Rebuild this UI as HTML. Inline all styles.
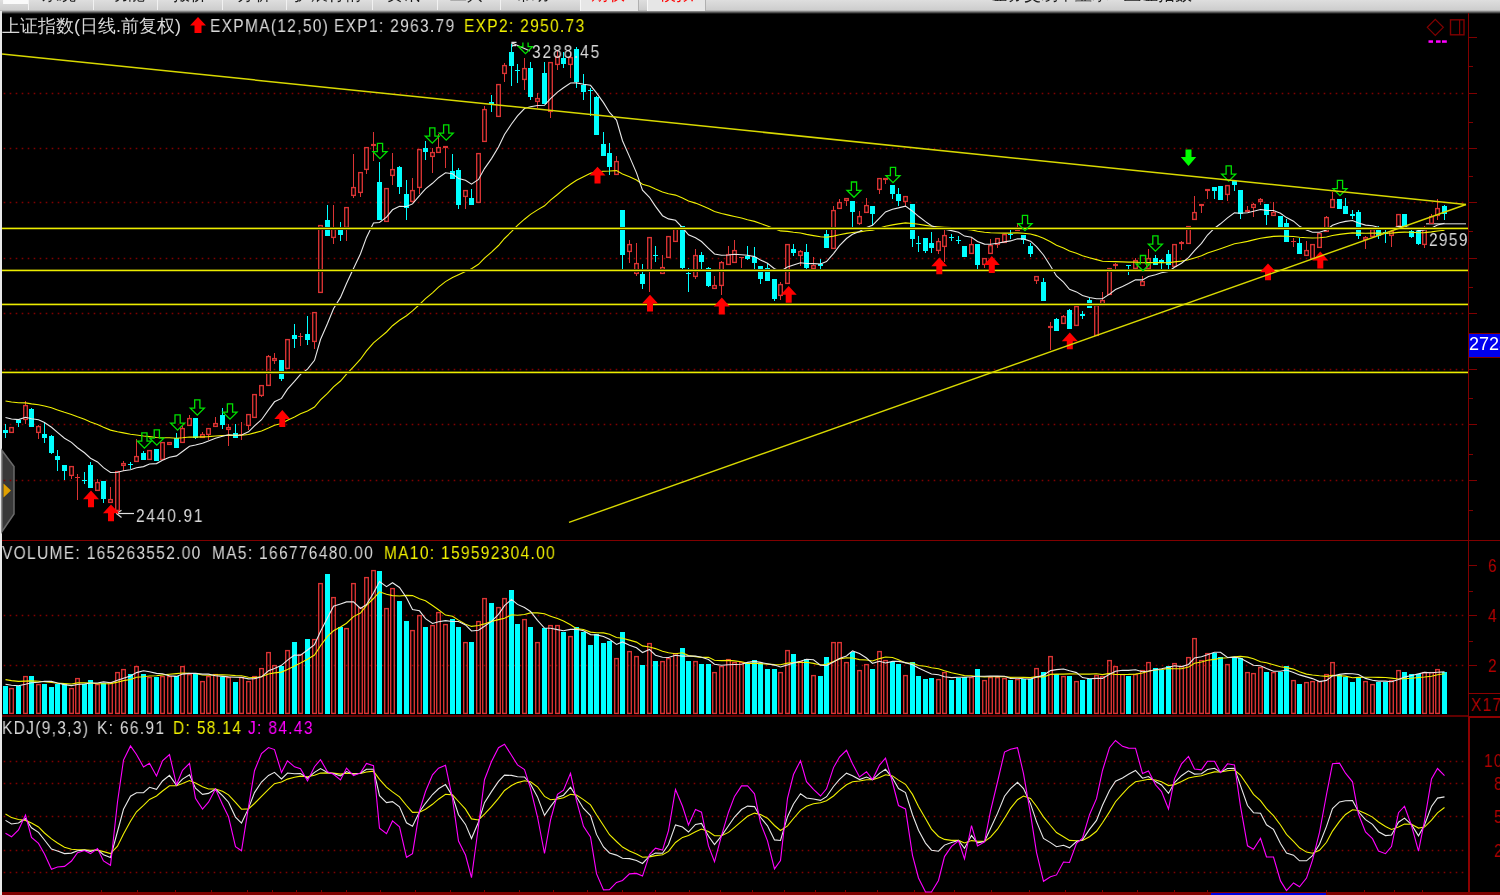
<!DOCTYPE html>
<html><head><meta charset="utf-8">
<style>
html,body{margin:0;padding:0;background:#000;}
body{width:1500px;height:895px;overflow:hidden;position:relative;font-family:"Liberation Sans",sans-serif;}
.t{position:absolute;white-space:nowrap;font-size:18px;line-height:18px;color:#d8d8d8;will-change:transform;transform-origin:0 0;transform:scaleX(0.86);letter-spacing:1.55px;}
.cj{transform:none;letter-spacing:0;}
.m{position:absolute;white-space:nowrap;font-size:17px;line-height:17px;color:#1a1a1a;top:-14px;will-change:transform;}
.sep{position:absolute;top:0;width:1px;height:10px;background:#f2f2f2;}
.bar{position:absolute;left:0;top:0;width:1500px;height:11px;overflow:hidden;}
.tab{position:absolute;top:0;height:11px;background:#e6e6e6;border-left:1px solid #f8f8f8;border-right:1px solid #b0b0b0;}
svg{position:absolute;left:0;top:0;}
</style></head><body>
<svg width="1500" height="895" viewBox="0 0 1500 895">
<rect x="0" y="0" width="1500" height="895" fill="#000"/>
<defs><linearGradient id="tb" x1="0" y1="0" x2="0" y2="1">
<stop offset="0" stop-color="#dedede"/><stop offset="0.72" stop-color="#cdcdcd"/><stop offset="0.85" stop-color="#707070"/><stop offset="1" stop-color="#000"/></linearGradient></defs>
<rect x="0" y="0" width="1500" height="14" fill="url(#tb)"/>
<rect x="0" y="11" width="2" height="884" fill="#e8e8e8"/>
<polygon points="2,450.5 14,466.5 14,514 2,531.5" fill="#383838" stroke="#6a6a6a" stroke-width="1.5"/>
<polygon points="3.5,483.5 11,490.5 3.5,497.5" fill="#e0a000"/>
<rect x="1468" y="13" width="1" height="703" fill="#800000"/>
<rect x="1468" y="716" width="2" height="176" fill="#8c0000"/>
<rect x="2" y="540" width="1498" height="1" fill="#800000"/>
<rect x="2" y="715" width="1466" height="2" fill="#600000"/>
<rect x="1468" y="716" width="32" height="2" fill="#8c0000"/>
<rect x="1468" y="693" width="32" height="1" fill="#8c0000"/>
<rect x="2" y="892" width="1498" height="3" fill="#800000"/>
<rect x="1211" y="893" width="115" height="2" fill="#0000e0"/>
<rect x="101" y="890" width="1" height="2" fill="#800000"/>
<rect x="137" y="890" width="1" height="2" fill="#800000"/>
<rect x="175" y="890" width="1" height="2" fill="#800000"/>
<rect x="211" y="890" width="1" height="2" fill="#800000"/>
<rect x="247" y="890" width="1" height="2" fill="#800000"/>
<rect x="272" y="890" width="1" height="2" fill="#800000"/>
<rect x="296" y="890" width="1" height="2" fill="#800000"/>
<rect x="321" y="890" width="1" height="2" fill="#800000"/>
<rect x="346" y="890" width="1" height="2" fill="#800000"/>
<rect x="380" y="890" width="1" height="2" fill="#800000"/>
<rect x="415" y="890" width="1" height="2" fill="#800000"/>
<rect x="450" y="890" width="1" height="2" fill="#800000"/>
<rect x="484" y="890" width="1" height="2" fill="#800000"/>
<rect x="519" y="890" width="1" height="2" fill="#800000"/>
<rect x="553" y="890" width="1" height="2" fill="#800000"/>
<rect x="587" y="890" width="1" height="2" fill="#800000"/>
<rect x="622" y="890" width="1" height="2" fill="#800000"/>
<rect x="655" y="890" width="1" height="2" fill="#800000"/>
<rect x="689" y="890" width="1" height="2" fill="#800000"/>
<rect x="720" y="890" width="1" height="2" fill="#800000"/>
<rect x="752" y="890" width="1" height="2" fill="#800000"/>
<rect x="784" y="890" width="1" height="2" fill="#800000"/>
<rect x="815" y="890" width="1" height="2" fill="#800000"/>
<rect x="845" y="890" width="1" height="2" fill="#800000"/>
<rect x="877" y="890" width="1" height="2" fill="#800000"/>
<rect x="914" y="890" width="1" height="2" fill="#800000"/>
<rect x="954" y="890" width="1" height="2" fill="#800000"/>
<rect x="991" y="890" width="1" height="2" fill="#800000"/>
<rect x="1029" y="890" width="1" height="2" fill="#800000"/>
<rect x="1065" y="890" width="1" height="2" fill="#800000"/>
<rect x="1102" y="890" width="1" height="2" fill="#800000"/>
<rect x="1137" y="890" width="1" height="2" fill="#800000"/>
<rect x="1174" y="890" width="1" height="2" fill="#800000"/>
<rect x="1207" y="890" width="1" height="2" fill="#800000"/>
<rect x="1326" y="890" width="1" height="2" fill="#800000"/>
<rect x="1364" y="890" width="1" height="2" fill="#800000"/>
<rect x="1394" y="890" width="1" height="2" fill="#800000"/>
<rect x="1422" y="890" width="1" height="2" fill="#800000"/>
<rect x="1469" y="37" width="8" height="1" fill="#800000"/>
<rect x="1469" y="93" width="8" height="1" fill="#800000"/>
<rect x="1469" y="148" width="8" height="1" fill="#800000"/>
<rect x="1469" y="202" width="8" height="1" fill="#800000"/>
<rect x="1469" y="258" width="8" height="1" fill="#800000"/>
<rect x="1469" y="313" width="8" height="1" fill="#800000"/>
<rect x="1469" y="369" width="8" height="1" fill="#800000"/>
<rect x="1469" y="424" width="8" height="1" fill="#800000"/>
<rect x="1469" y="480" width="8" height="1" fill="#800000"/>
<rect x="1469" y="66" width="4" height="1" fill="#800000"/>
<rect x="1469" y="122" width="4" height="1" fill="#800000"/>
<rect x="1469" y="176" width="4" height="1" fill="#800000"/>
<rect x="1469" y="231" width="4" height="1" fill="#800000"/>
<rect x="1469" y="287" width="4" height="1" fill="#800000"/>
<rect x="1469" y="342" width="4" height="1" fill="#800000"/>
<rect x="1469" y="398" width="4" height="1" fill="#800000"/>
<rect x="1469" y="454" width="4" height="1" fill="#800000"/>
<rect x="1469" y="510" width="4" height="1" fill="#800000"/>
<rect x="1469" y="565" width="8" height="1" fill="#800000"/>
<rect x="1469" y="615" width="8" height="1" fill="#800000"/>
<rect x="1469" y="665" width="8" height="1" fill="#800000"/>
<rect x="1469" y="591" width="4" height="1" fill="#800000"/>
<rect x="1469" y="641" width="4" height="1" fill="#800000"/>
<polygon points="1435.3,19.3 1443.3,27.3 1435.3,35.3 1427.3,27.3" fill="none" stroke="#800000" stroke-width="1.2"/>
<rect x="1450.5" y="19.8" width="13.5" height="15" fill="none" stroke="#800000" stroke-width="1.4"/>
<rect x="1459" y="20" width="1.2" height="15" fill="#800000"/>
<rect x="1428.5" y="40.3" width="4.5" height="2.5" fill="#ff00ff"/>
<rect x="1436" y="40.3" width="4.6" height="2.5" fill="#ff00ff"/>
<rect x="1442" y="40.3" width="4.8" height="2.5" fill="#ff00ff"/>
<rect x="1468.5" y="333.5" width="33" height="24" fill="#0000f0" stroke="#800000" stroke-width="1"/>
<rect x="1426" y="223" width="40" height="1.5" fill="#9a9a9a"/>
<polygon points="198,17 206,25.5 201.5,25.5 201.5,33 194.5,33 194.5,25.5 190,25.5" fill="#ff0000"/>
<g stroke="#e0e0e0" stroke-width="1.2" fill="none">
<line x1="116.5" y1="513.5" x2="134" y2="513.5"/><line x1="116.5" y1="513.5" x2="121.5" y2="510.3"/><line x1="116.5" y1="513.5" x2="121.5" y2="517.5"/>
<polyline points="516.5,42.4 512,42.4 512,47"/><line x1="512" y1="45.6" x2="516" y2="45.6"/><line x1="512" y1="43" x2="530" y2="51"/>
</g>
<line x1="3.7" y1="93.5" x2="1466" y2="93.5" stroke="#800000" stroke-width="1.6" stroke-dasharray="1.6 4.4"/>
<line x1="3.7" y1="148.5" x2="1466" y2="148.5" stroke="#800000" stroke-width="1.6" stroke-dasharray="1.6 4.4"/>
<line x1="3.7" y1="202.5" x2="1466" y2="202.5" stroke="#800000" stroke-width="1.6" stroke-dasharray="1.6 4.4"/>
<line x1="3.7" y1="258.5" x2="1466" y2="258.5" stroke="#800000" stroke-width="1.6" stroke-dasharray="1.6 4.4"/>
<line x1="3.7" y1="313.5" x2="1466" y2="313.5" stroke="#800000" stroke-width="1.6" stroke-dasharray="1.6 4.4"/>
<line x1="3.7" y1="369.5" x2="1466" y2="369.5" stroke="#800000" stroke-width="1.6" stroke-dasharray="1.6 4.4"/>
<line x1="3.7" y1="424.5" x2="1466" y2="424.5" stroke="#800000" stroke-width="1.6" stroke-dasharray="1.6 4.4"/>
<line x1="3.7" y1="480.5" x2="1466" y2="480.5" stroke="#800000" stroke-width="1.6" stroke-dasharray="1.6 4.4"/>
<line x1="3.7" y1="615.5" x2="1466" y2="615.5" stroke="#800000" stroke-width="1.6" stroke-dasharray="1.6 4.4"/>
<line x1="3.7" y1="665.5" x2="1466" y2="665.5" stroke="#800000" stroke-width="1.6" stroke-dasharray="1.6 4.4"/>
<line x1="3.7" y1="761.5" x2="1466" y2="761.5" stroke="#800000" stroke-width="1.6" stroke-dasharray="1.6 4.4"/>
<line x1="3.7" y1="783.5" x2="1466" y2="783.5" stroke="#800000" stroke-width="1.6" stroke-dasharray="1.6 4.4"/>
<line x1="3.7" y1="816.5" x2="1466" y2="816.5" stroke="#800000" stroke-width="1.6" stroke-dasharray="1.6 4.4"/>
<line x1="3.7" y1="850.5" x2="1466" y2="850.5" stroke="#800000" stroke-width="1.6" stroke-dasharray="1.6 4.4"/>
<line x1="3.7" y1="872.5" x2="1466" y2="872.5" stroke="#800000" stroke-width="1.6" stroke-dasharray="1.6 4.4"/>
<rect x="5" y="424" width="1" height="14" fill="#00ffff"/>
<rect x="3" y="430" width="5" height="3" fill="#00ffff"/>
<rect x="9.7" y="427.6" width="3.6" height="4.8" fill="none" stroke="#dc3434" stroke-width="1.35"/>
<rect x="18" y="419" width="1" height="8" fill="#00ffff"/>
<rect x="16" y="420" width="5" height="3" fill="#00ffff"/>
<rect x="25" y="401" width="1" height="4" fill="#dc3434"/>
<rect x="25" y="420" width="1" height="4" fill="#dc3434"/>
<rect x="23.7" y="405.6" width="3.6" height="13.8" fill="none" stroke="#dc3434" stroke-width="1.35"/>
<rect x="31" y="408" width="1" height="19" fill="#00ffff"/>
<rect x="29" y="409" width="5" height="18" fill="#00ffff"/>
<rect x="38" y="425" width="1" height="1" fill="#dc3434"/>
<rect x="38" y="433" width="1" height="6" fill="#dc3434"/>
<rect x="36.7" y="426.6" width="3.6" height="5.8" fill="none" stroke="#dc3434" stroke-width="1.35"/>
<rect x="44" y="423" width="1" height="20" fill="#00ffff"/>
<rect x="42" y="434" width="5" height="4" fill="#00ffff"/>
<rect x="51" y="435" width="1" height="19" fill="#00ffff"/>
<rect x="49" y="436" width="5" height="17" fill="#00ffff"/>
<rect x="57" y="450" width="1" height="21" fill="#00ffff"/>
<rect x="55" y="456" width="5" height="4" fill="#00ffff"/>
<rect x="64" y="465" width="1" height="15" fill="#00ffff"/>
<rect x="62" y="465" width="5" height="6" fill="#00ffff"/>
<rect x="71" y="476" width="1" height="3" fill="#dc3434"/>
<rect x="69.7" y="466.6" width="3.6" height="8.8" fill="none" stroke="#dc3434" stroke-width="1.35"/>
<rect x="77" y="474" width="1" height="3" fill="#dc3434"/>
<rect x="77" y="478" width="1" height="22" fill="#dc3434"/>
<rect x="75" y="477" width="5" height="1" fill="#dc3434"/>
<rect x="84" y="472" width="1" height="12" fill="#00ffff"/>
<rect x="82" y="480" width="5" height="1" fill="#00ffff"/>
<rect x="90" y="462" width="1" height="26" fill="#00ffff"/>
<rect x="88" y="465" width="5" height="23" fill="#00ffff"/>
<rect x="97" y="479" width="1" height="3" fill="#dc3434"/>
<rect x="95.7" y="482.6" width="3.6" height="7.8" fill="none" stroke="#dc3434" stroke-width="1.35"/>
<rect x="103" y="481" width="1" height="22" fill="#00ffff"/>
<rect x="101" y="481" width="5" height="18" fill="#00ffff"/>
<rect x="110" y="487" width="1" height="12" fill="#dc3434"/>
<rect x="108.7" y="499.6" width="3.6" height="2.8" fill="none" stroke="#dc3434" stroke-width="1.35"/>
<rect x="117" y="511" width="1" height="3" fill="#dc3434"/>
<rect x="115.7" y="471.6" width="3.6" height="38.8" fill="none" stroke="#dc3434" stroke-width="1.35"/>
<rect x="123" y="461" width="1" height="2" fill="#dc3434"/>
<rect x="123" y="466" width="1" height="5" fill="#dc3434"/>
<rect x="121.7" y="463.6" width="3.6" height="1.8" fill="none" stroke="#dc3434" stroke-width="1.35"/>
<rect x="130" y="462" width="1" height="7" fill="#00ffff"/>
<rect x="128" y="464" width="5" height="1" fill="#00ffff"/>
<rect x="136" y="439" width="1" height="17" fill="#dc3434"/>
<rect x="134.7" y="456.6" width="3.6" height="4.8" fill="none" stroke="#dc3434" stroke-width="1.35"/>
<rect x="143" y="451" width="1" height="9" fill="#00ffff"/>
<rect x="141" y="453" width="5" height="7" fill="#00ffff"/>
<rect x="147.7" y="450.6" width="3.6" height="8.8" fill="none" stroke="#dc3434" stroke-width="1.35"/>
<rect x="156" y="449" width="1" height="12" fill="#00ffff"/>
<rect x="154" y="449" width="5" height="12" fill="#00ffff"/>
<rect x="160.7" y="442.6" width="3.6" height="16.8" fill="none" stroke="#dc3434" stroke-width="1.35"/>
<rect x="167.7" y="442.6" width="3.6" height="1.8" fill="none" stroke="#dc3434" stroke-width="1.35"/>
<rect x="176" y="433" width="1" height="15" fill="#00ffff"/>
<rect x="174" y="438" width="5" height="10" fill="#00ffff"/>
<rect x="182" y="426" width="1" height="2" fill="#dc3434"/>
<rect x="180.7" y="428.6" width="3.6" height="13.8" fill="none" stroke="#dc3434" stroke-width="1.35"/>
<rect x="189" y="415" width="1" height="3" fill="#dc3434"/>
<rect x="187.7" y="418.6" width="3.6" height="6.8" fill="none" stroke="#dc3434" stroke-width="1.35"/>
<rect x="195" y="418" width="1" height="21" fill="#00ffff"/>
<rect x="193" y="418" width="5" height="20" fill="#00ffff"/>
<rect x="202" y="432" width="1" height="2" fill="#dc3434"/>
<rect x="200.7" y="434.6" width="3.6" height="2.8" fill="none" stroke="#dc3434" stroke-width="1.35"/>
<rect x="208" y="435" width="1" height="5" fill="#dc3434"/>
<rect x="206.7" y="428.6" width="3.6" height="5.8" fill="none" stroke="#dc3434" stroke-width="1.35"/>
<rect x="215" y="417" width="1" height="6" fill="#dc3434"/>
<rect x="213.7" y="423.6" width="3.6" height="2.8" fill="none" stroke="#dc3434" stroke-width="1.35"/>
<rect x="222" y="408" width="1" height="21" fill="#00ffff"/>
<rect x="220" y="415" width="5" height="10" fill="#00ffff"/>
<rect x="228" y="424" width="1" height="3" fill="#dc3434"/>
<rect x="228" y="430" width="1" height="16" fill="#dc3434"/>
<rect x="226.7" y="427.6" width="3.6" height="1.8" fill="none" stroke="#dc3434" stroke-width="1.35"/>
<rect x="235" y="424" width="1" height="14" fill="#00ffff"/>
<rect x="233" y="433" width="5" height="5" fill="#00ffff"/>
<rect x="241" y="422" width="1" height="12" fill="#dc3434"/>
<rect x="241" y="435" width="1" height="5" fill="#dc3434"/>
<rect x="239" y="434" width="5" height="1" fill="#dc3434"/>
<rect x="248" y="426" width="1" height="4" fill="#dc3434"/>
<rect x="246.7" y="414.6" width="3.6" height="10.8" fill="none" stroke="#dc3434" stroke-width="1.35"/>
<rect x="252.7" y="394.6" width="3.6" height="22.8" fill="none" stroke="#dc3434" stroke-width="1.35"/>
<rect x="261" y="396" width="1" height="1" fill="#dc3434"/>
<rect x="259.7" y="385.6" width="3.6" height="9.8" fill="none" stroke="#dc3434" stroke-width="1.35"/>
<rect x="268" y="355" width="1" height="1" fill="#dc3434"/>
<rect x="266.7" y="356.6" width="3.6" height="28.8" fill="none" stroke="#dc3434" stroke-width="1.35"/>
<rect x="274" y="353" width="1" height="5" fill="#dc3434"/>
<rect x="274" y="361" width="1" height="3" fill="#dc3434"/>
<rect x="272.7" y="358.6" width="3.6" height="1.8" fill="none" stroke="#dc3434" stroke-width="1.35"/>
<rect x="281" y="360" width="1" height="21" fill="#00ffff"/>
<rect x="279" y="360" width="5" height="19" fill="#00ffff"/>
<rect x="285.7" y="339.6" width="3.6" height="28.8" fill="none" stroke="#dc3434" stroke-width="1.35"/>
<rect x="294" y="324" width="1" height="24" fill="#00ffff"/>
<rect x="292" y="335" width="5" height="4" fill="#00ffff"/>
<rect x="300" y="333" width="1" height="3" fill="#dc3434"/>
<rect x="300" y="337" width="1" height="9" fill="#dc3434"/>
<rect x="298" y="336" width="5" height="1" fill="#dc3434"/>
<rect x="307" y="316" width="1" height="29" fill="#00ffff"/>
<rect x="305" y="334" width="5" height="6" fill="#00ffff"/>
<rect x="314" y="342" width="1" height="7" fill="#dc3434"/>
<rect x="312.7" y="312.6" width="3.6" height="28.8" fill="none" stroke="#dc3434" stroke-width="1.35"/>
<rect x="318.7" y="225.6" width="3.6" height="66.8" fill="none" stroke="#dc3434" stroke-width="1.35"/>
<rect x="327" y="205" width="1" height="31" fill="#00ffff"/>
<rect x="325" y="220" width="5" height="16" fill="#00ffff"/>
<rect x="333" y="205" width="1" height="23" fill="#dc3434"/>
<rect x="333" y="238" width="1" height="6" fill="#dc3434"/>
<rect x="331.7" y="228.6" width="3.6" height="8.8" fill="none" stroke="#dc3434" stroke-width="1.35"/>
<rect x="340" y="222" width="1" height="19" fill="#00ffff"/>
<rect x="338" y="230" width="5" height="5" fill="#00ffff"/>
<rect x="346" y="228" width="1" height="13" fill="#dc3434"/>
<rect x="344.7" y="207.6" width="3.6" height="19.8" fill="none" stroke="#dc3434" stroke-width="1.35"/>
<rect x="353" y="154" width="1" height="33" fill="#dc3434"/>
<rect x="353" y="196" width="1" height="2" fill="#dc3434"/>
<rect x="351.7" y="187.6" width="3.6" height="7.8" fill="none" stroke="#dc3434" stroke-width="1.35"/>
<rect x="360" y="193" width="1" height="4" fill="#dc3434"/>
<rect x="358.7" y="172.6" width="3.6" height="19.8" fill="none" stroke="#dc3434" stroke-width="1.35"/>
<rect x="366" y="170" width="1" height="4" fill="#dc3434"/>
<rect x="364.7" y="147.6" width="3.6" height="21.8" fill="none" stroke="#dc3434" stroke-width="1.35"/>
<rect x="373" y="132" width="1" height="12" fill="#dc3434"/>
<rect x="373" y="146" width="1" height="15" fill="#dc3434"/>
<rect x="371.7" y="144.6" width="3.6" height="0.8" fill="none" stroke="#dc3434" stroke-width="1.35"/>
<rect x="379" y="162" width="1" height="58" fill="#00ffff"/>
<rect x="377" y="182" width="5" height="38" fill="#00ffff"/>
<rect x="384.7" y="188.6" width="3.6" height="32.8" fill="none" stroke="#dc3434" stroke-width="1.35"/>
<rect x="392" y="153" width="1" height="16" fill="#dc3434"/>
<rect x="392" y="176" width="1" height="9" fill="#dc3434"/>
<rect x="390.7" y="169.6" width="3.6" height="5.8" fill="none" stroke="#dc3434" stroke-width="1.35"/>
<rect x="399" y="166" width="1" height="28" fill="#00ffff"/>
<rect x="397" y="167" width="5" height="20" fill="#00ffff"/>
<rect x="406" y="180" width="1" height="40" fill="#00ffff"/>
<rect x="404" y="194" width="5" height="14" fill="#00ffff"/>
<rect x="412" y="178" width="1" height="12" fill="#dc3434"/>
<rect x="410.7" y="190.6" width="3.6" height="10.8" fill="none" stroke="#dc3434" stroke-width="1.35"/>
<rect x="419" y="188" width="1" height="6" fill="#dc3434"/>
<rect x="417.7" y="149.6" width="3.6" height="37.8" fill="none" stroke="#dc3434" stroke-width="1.35"/>
<rect x="425" y="141" width="1" height="19" fill="#00ffff"/>
<rect x="423" y="148" width="5" height="4" fill="#00ffff"/>
<rect x="432" y="148" width="1" height="4" fill="#dc3434"/>
<rect x="432" y="157" width="1" height="16" fill="#dc3434"/>
<rect x="430.7" y="152.6" width="3.6" height="3.8" fill="none" stroke="#dc3434" stroke-width="1.35"/>
<rect x="438" y="134" width="1" height="13" fill="#dc3434"/>
<rect x="436.7" y="147.6" width="3.6" height="4.8" fill="none" stroke="#dc3434" stroke-width="1.35"/>
<rect x="445" y="148" width="1" height="20" fill="#dc3434"/>
<rect x="443.7" y="146.6" width="3.6" height="0.8" fill="none" stroke="#dc3434" stroke-width="1.35"/>
<rect x="452" y="154" width="1" height="25" fill="#00ffff"/>
<rect x="450" y="171" width="5" height="8" fill="#00ffff"/>
<rect x="458" y="168" width="1" height="41" fill="#00ffff"/>
<rect x="456" y="170" width="5" height="35" fill="#00ffff"/>
<rect x="465" y="197" width="1" height="12" fill="#dc3434"/>
<rect x="463.7" y="190.6" width="3.6" height="5.8" fill="none" stroke="#dc3434" stroke-width="1.35"/>
<rect x="471" y="189" width="1" height="16" fill="#00ffff"/>
<rect x="469" y="198" width="5" height="7" fill="#00ffff"/>
<rect x="476.7" y="153.6" width="3.6" height="48.8" fill="none" stroke="#dc3434" stroke-width="1.35"/>
<rect x="484" y="106" width="1" height="3" fill="#dc3434"/>
<rect x="482.7" y="109.6" width="3.6" height="31.8" fill="none" stroke="#dc3434" stroke-width="1.35"/>
<rect x="491" y="95" width="1" height="17" fill="#00ffff"/>
<rect x="489" y="102" width="5" height="2" fill="#00ffff"/>
<rect x="496.7" y="84.6" width="3.6" height="31.8" fill="none" stroke="#dc3434" stroke-width="1.35"/>
<rect x="504" y="63" width="1" height="2" fill="#dc3434"/>
<rect x="504" y="74" width="1" height="8" fill="#dc3434"/>
<rect x="502.7" y="65.6" width="3.6" height="7.8" fill="none" stroke="#dc3434" stroke-width="1.35"/>
<rect x="511" y="44" width="1" height="42" fill="#00ffff"/>
<rect x="509" y="52" width="5" height="14" fill="#00ffff"/>
<rect x="517" y="64" width="1" height="19" fill="#00ffff"/>
<rect x="515" y="70" width="5" height="1" fill="#00ffff"/>
<rect x="524" y="58" width="1" height="10" fill="#dc3434"/>
<rect x="524" y="80" width="1" height="10" fill="#dc3434"/>
<rect x="522.7" y="68.6" width="3.6" height="10.8" fill="none" stroke="#dc3434" stroke-width="1.35"/>
<rect x="530" y="62" width="1" height="38" fill="#00ffff"/>
<rect x="528" y="68" width="5" height="29" fill="#00ffff"/>
<rect x="537" y="93" width="1" height="5" fill="#dc3434"/>
<rect x="537" y="102" width="1" height="6" fill="#dc3434"/>
<rect x="535.7" y="98.6" width="3.6" height="2.8" fill="none" stroke="#dc3434" stroke-width="1.35"/>
<rect x="544" y="62" width="1" height="42" fill="#00ffff"/>
<rect x="542" y="73" width="5" height="31" fill="#00ffff"/>
<rect x="550" y="112" width="1" height="6" fill="#dc3434"/>
<rect x="548.7" y="62.6" width="3.6" height="48.8" fill="none" stroke="#dc3434" stroke-width="1.35"/>
<rect x="557" y="50" width="1" height="6" fill="#dc3434"/>
<rect x="557" y="65" width="1" height="5" fill="#dc3434"/>
<rect x="555.7" y="56.6" width="3.6" height="7.8" fill="none" stroke="#dc3434" stroke-width="1.35"/>
<rect x="563" y="52" width="1" height="16" fill="#00ffff"/>
<rect x="561" y="58" width="5" height="6" fill="#00ffff"/>
<rect x="570" y="52" width="1" height="5" fill="#dc3434"/>
<rect x="570" y="65" width="1" height="13" fill="#dc3434"/>
<rect x="568.7" y="57.6" width="3.6" height="6.8" fill="none" stroke="#dc3434" stroke-width="1.35"/>
<rect x="576" y="47" width="1" height="41" fill="#00ffff"/>
<rect x="574" y="49" width="5" height="33" fill="#00ffff"/>
<rect x="583" y="74" width="1" height="26" fill="#00ffff"/>
<rect x="581" y="85" width="5" height="7" fill="#00ffff"/>
<rect x="590" y="88" width="1" height="28" fill="#00ffff"/>
<rect x="588" y="90" width="5" height="1" fill="#00ffff"/>
<rect x="596" y="96" width="1" height="39" fill="#00ffff"/>
<rect x="594" y="97" width="5" height="38" fill="#00ffff"/>
<rect x="603" y="132" width="1" height="24" fill="#00ffff"/>
<rect x="601" y="144" width="5" height="12" fill="#00ffff"/>
<rect x="609" y="143" width="1" height="32" fill="#00ffff"/>
<rect x="607" y="153" width="5" height="14" fill="#00ffff"/>
<rect x="616" y="156" width="1" height="5" fill="#dc3434"/>
<rect x="614.7" y="161.6" width="3.6" height="12.8" fill="none" stroke="#dc3434" stroke-width="1.35"/>
<rect x="622" y="210" width="1" height="60" fill="#00ffff"/>
<rect x="620" y="210" width="5" height="45" fill="#00ffff"/>
<rect x="629" y="240" width="1" height="4" fill="#dc3434"/>
<rect x="629" y="252" width="1" height="11" fill="#dc3434"/>
<rect x="627.7" y="244.6" width="3.6" height="6.8" fill="none" stroke="#dc3434" stroke-width="1.35"/>
<rect x="636" y="243" width="1" height="20" fill="#dc3434"/>
<rect x="636" y="274" width="1" height="2" fill="#dc3434"/>
<rect x="634.7" y="263.6" width="3.6" height="9.8" fill="none" stroke="#dc3434" stroke-width="1.35"/>
<rect x="642" y="264" width="1" height="25" fill="#00ffff"/>
<rect x="640" y="274" width="5" height="10" fill="#00ffff"/>
<rect x="649" y="271" width="1" height="21" fill="#dc3434"/>
<rect x="647.7" y="237.6" width="3.6" height="32.8" fill="none" stroke="#dc3434" stroke-width="1.35"/>
<rect x="655" y="246" width="1" height="16" fill="#00ffff"/>
<rect x="653" y="255" width="5" height="1" fill="#00ffff"/>
<rect x="662" y="255" width="1" height="12" fill="#dc3434"/>
<rect x="660.7" y="267.6" width="3.6" height="5.8" fill="none" stroke="#dc3434" stroke-width="1.35"/>
<rect x="666.7" y="236.6" width="3.6" height="20.8" fill="none" stroke="#dc3434" stroke-width="1.35"/>
<rect x="673.7" y="228.6" width="3.6" height="12.8" fill="none" stroke="#dc3434" stroke-width="1.35"/>
<rect x="682" y="226" width="1" height="46" fill="#00ffff"/>
<rect x="680" y="226" width="5" height="42" fill="#00ffff"/>
<rect x="688" y="268" width="1" height="24" fill="#00ffff"/>
<rect x="686" y="273" width="5" height="1" fill="#00ffff"/>
<rect x="695" y="249" width="1" height="6" fill="#dc3434"/>
<rect x="695" y="277" width="1" height="2" fill="#dc3434"/>
<rect x="693.7" y="255.6" width="3.6" height="20.8" fill="none" stroke="#dc3434" stroke-width="1.35"/>
<rect x="701" y="252" width="1" height="17" fill="#00ffff"/>
<rect x="699" y="255" width="5" height="7" fill="#00ffff"/>
<rect x="708" y="267" width="1" height="20" fill="#00ffff"/>
<rect x="706" y="268" width="5" height="18" fill="#00ffff"/>
<rect x="714" y="276" width="1" height="9" fill="#dc3434"/>
<rect x="712.7" y="285.6" width="3.6" height="2.8" fill="none" stroke="#dc3434" stroke-width="1.35"/>
<rect x="721" y="261" width="1" height="1" fill="#dc3434"/>
<rect x="721" y="286" width="1" height="9" fill="#dc3434"/>
<rect x="719.7" y="262.6" width="3.6" height="22.8" fill="none" stroke="#dc3434" stroke-width="1.35"/>
<rect x="728" y="246" width="1" height="8" fill="#dc3434"/>
<rect x="726.7" y="254.6" width="3.6" height="9.8" fill="none" stroke="#dc3434" stroke-width="1.35"/>
<rect x="734" y="240" width="1" height="10" fill="#dc3434"/>
<rect x="732.7" y="250.6" width="3.6" height="11.8" fill="none" stroke="#dc3434" stroke-width="1.35"/>
<rect x="741" y="258" width="1" height="10" fill="#dc3434"/>
<rect x="739" y="257" width="5" height="1" fill="#dc3434"/>
<rect x="747" y="246" width="1" height="14" fill="#00ffff"/>
<rect x="745" y="256" width="5" height="3" fill="#00ffff"/>
<rect x="754" y="247" width="1" height="22" fill="#00ffff"/>
<rect x="752" y="257" width="5" height="6" fill="#00ffff"/>
<rect x="760" y="266" width="1" height="18" fill="#00ffff"/>
<rect x="758" y="266" width="5" height="13" fill="#00ffff"/>
<rect x="767" y="263" width="1" height="18" fill="#00ffff"/>
<rect x="765" y="268" width="5" height="13" fill="#00ffff"/>
<rect x="774" y="279" width="1" height="22" fill="#00ffff"/>
<rect x="772" y="279" width="5" height="20" fill="#00ffff"/>
<rect x="780" y="282" width="1" height="2" fill="#dc3434"/>
<rect x="780" y="296" width="1" height="4" fill="#dc3434"/>
<rect x="778.7" y="284.6" width="3.6" height="10.8" fill="none" stroke="#dc3434" stroke-width="1.35"/>
<rect x="785.7" y="244.6" width="3.6" height="38.8" fill="none" stroke="#dc3434" stroke-width="1.35"/>
<rect x="793" y="244" width="1" height="12" fill="#00ffff"/>
<rect x="791" y="249" width="5" height="4" fill="#00ffff"/>
<rect x="800" y="250" width="1" height="1" fill="#dc3434"/>
<rect x="800" y="256" width="1" height="10" fill="#dc3434"/>
<rect x="798.7" y="251.6" width="3.6" height="3.8" fill="none" stroke="#dc3434" stroke-width="1.35"/>
<rect x="806" y="244" width="1" height="25" fill="#00ffff"/>
<rect x="804" y="252" width="5" height="16" fill="#00ffff"/>
<rect x="813" y="257" width="1" height="8" fill="#dc3434"/>
<rect x="811.7" y="265.6" width="3.6" height="2.8" fill="none" stroke="#dc3434" stroke-width="1.35"/>
<rect x="820" y="259" width="1" height="13" fill="#00ffff"/>
<rect x="818" y="264" width="5" height="2" fill="#00ffff"/>
<rect x="826" y="230" width="1" height="18" fill="#00ffff"/>
<rect x="824" y="234" width="5" height="14" fill="#00ffff"/>
<rect x="833" y="206" width="1" height="4" fill="#dc3434"/>
<rect x="831.7" y="210.6" width="3.6" height="37.8" fill="none" stroke="#dc3434" stroke-width="1.35"/>
<rect x="839" y="199" width="1" height="3" fill="#dc3434"/>
<rect x="837.7" y="202.6" width="3.6" height="5.8" fill="none" stroke="#dc3434" stroke-width="1.35"/>
<rect x="846" y="201" width="1" height="5" fill="#dc3434"/>
<rect x="844.7" y="198.6" width="3.6" height="1.8" fill="none" stroke="#dc3434" stroke-width="1.35"/>
<rect x="852" y="201" width="1" height="29" fill="#00ffff"/>
<rect x="850" y="201" width="5" height="11" fill="#00ffff"/>
<rect x="859" y="211" width="1" height="5" fill="#dc3434"/>
<rect x="859" y="224" width="1" height="1" fill="#dc3434"/>
<rect x="857.7" y="216.6" width="3.6" height="6.8" fill="none" stroke="#dc3434" stroke-width="1.35"/>
<rect x="866" y="198" width="1" height="7" fill="#dc3434"/>
<rect x="864.7" y="205.6" width="3.6" height="6.8" fill="none" stroke="#dc3434" stroke-width="1.35"/>
<rect x="872" y="206" width="1" height="19" fill="#00ffff"/>
<rect x="870" y="206" width="5" height="8" fill="#00ffff"/>
<rect x="879" y="190" width="1" height="4" fill="#dc3434"/>
<rect x="877.7" y="178.6" width="3.6" height="10.8" fill="none" stroke="#dc3434" stroke-width="1.35"/>
<rect x="885" y="180" width="1" height="4" fill="#dc3434"/>
<rect x="883.7" y="178.6" width="3.6" height="0.8" fill="none" stroke="#dc3434" stroke-width="1.35"/>
<rect x="892" y="185" width="1" height="14" fill="#00ffff"/>
<rect x="890" y="185" width="5" height="9" fill="#00ffff"/>
<rect x="898" y="188" width="1" height="18" fill="#00ffff"/>
<rect x="896" y="194" width="5" height="7" fill="#00ffff"/>
<rect x="905" y="202" width="1" height="4" fill="#dc3434"/>
<rect x="903.7" y="196.6" width="3.6" height="4.8" fill="none" stroke="#dc3434" stroke-width="1.35"/>
<rect x="912" y="204" width="1" height="43" fill="#00ffff"/>
<rect x="910" y="204" width="5" height="35" fill="#00ffff"/>
<rect x="918" y="236" width="1" height="16" fill="#00ffff"/>
<rect x="916" y="243" width="5" height="1" fill="#00ffff"/>
<rect x="925" y="238" width="1" height="15" fill="#00ffff"/>
<rect x="923" y="238" width="5" height="13" fill="#00ffff"/>
<rect x="931" y="232" width="1" height="21" fill="#00ffff"/>
<rect x="929" y="243" width="5" height="5" fill="#00ffff"/>
<rect x="938" y="238" width="1" height="3" fill="#dc3434"/>
<rect x="938" y="251" width="1" height="3" fill="#dc3434"/>
<rect x="936.7" y="241.6" width="3.6" height="8.8" fill="none" stroke="#dc3434" stroke-width="1.35"/>
<rect x="944" y="230" width="1" height="5" fill="#dc3434"/>
<rect x="944" y="247" width="1" height="15" fill="#dc3434"/>
<rect x="942.7" y="235.6" width="3.6" height="10.8" fill="none" stroke="#dc3434" stroke-width="1.35"/>
<rect x="951" y="234" width="1" height="7" fill="#00ffff"/>
<rect x="949" y="237" width="5" height="1" fill="#00ffff"/>
<rect x="958" y="236" width="1" height="8" fill="#00ffff"/>
<rect x="956" y="240" width="5" height="1" fill="#00ffff"/>
<rect x="964" y="246" width="1" height="11" fill="#00ffff"/>
<rect x="962" y="246" width="5" height="11" fill="#00ffff"/>
<rect x="971" y="238" width="1" height="6" fill="#dc3434"/>
<rect x="969.7" y="244.6" width="3.6" height="8.8" fill="none" stroke="#dc3434" stroke-width="1.35"/>
<rect x="977" y="244" width="1" height="26" fill="#00ffff"/>
<rect x="975" y="244" width="5" height="21" fill="#00ffff"/>
<rect x="984" y="265" width="1" height="3" fill="#dc3434"/>
<rect x="982.7" y="258.6" width="3.6" height="5.8" fill="none" stroke="#dc3434" stroke-width="1.35"/>
<rect x="990" y="239" width="1" height="6" fill="#dc3434"/>
<rect x="988.7" y="245.6" width="3.6" height="7.8" fill="none" stroke="#dc3434" stroke-width="1.35"/>
<rect x="997" y="245" width="1" height="3" fill="#dc3434"/>
<rect x="995.7" y="238.6" width="3.6" height="5.8" fill="none" stroke="#dc3434" stroke-width="1.35"/>
<rect x="1002.7" y="234.6" width="3.6" height="7.8" fill="none" stroke="#dc3434" stroke-width="1.35"/>
<rect x="1010" y="230" width="1" height="9" fill="#00ffff"/>
<rect x="1008" y="234" width="5" height="1" fill="#00ffff"/>
<rect x="1017" y="223" width="1" height="4" fill="#dc3434"/>
<rect x="1015.7" y="227.6" width="3.6" height="2.8" fill="none" stroke="#dc3434" stroke-width="1.35"/>
<rect x="1023" y="235" width="1" height="9" fill="#00ffff"/>
<rect x="1021" y="235" width="5" height="5" fill="#00ffff"/>
<rect x="1030" y="243" width="1" height="14" fill="#00ffff"/>
<rect x="1028" y="246" width="5" height="8" fill="#00ffff"/>
<rect x="1036" y="281" width="1" height="3" fill="#dc3434"/>
<rect x="1034.7" y="276.6" width="3.6" height="3.8" fill="none" stroke="#dc3434" stroke-width="1.35"/>
<rect x="1043" y="278" width="1" height="23" fill="#00ffff"/>
<rect x="1041" y="282" width="5" height="19" fill="#00ffff"/>
<rect x="1050" y="322" width="1" height="4" fill="#dc3434"/>
<rect x="1050" y="328" width="1" height="22" fill="#dc3434"/>
<rect x="1048.7" y="326.6" width="3.6" height="0.8" fill="none" stroke="#dc3434" stroke-width="1.35"/>
<rect x="1056" y="318" width="1" height="13" fill="#00ffff"/>
<rect x="1054" y="319" width="5" height="12" fill="#00ffff"/>
<rect x="1063" y="315" width="1" height="1" fill="#dc3434"/>
<rect x="1061.7" y="316.6" width="3.6" height="6.8" fill="none" stroke="#dc3434" stroke-width="1.35"/>
<rect x="1069" y="309" width="1" height="20" fill="#00ffff"/>
<rect x="1067" y="310" width="5" height="19" fill="#00ffff"/>
<rect x="1074.7" y="306.6" width="3.6" height="18.8" fill="none" stroke="#dc3434" stroke-width="1.35"/>
<rect x="1082" y="311" width="1" height="8" fill="#00ffff"/>
<rect x="1080" y="314" width="5" height="2" fill="#00ffff"/>
<rect x="1089" y="298" width="1" height="10" fill="#00ffff"/>
<rect x="1087" y="300" width="5" height="8" fill="#00ffff"/>
<rect x="1094.7" y="305.6" width="3.6" height="29.8" fill="none" stroke="#dc3434" stroke-width="1.35"/>
<rect x="1102" y="292" width="1" height="8" fill="#dc3434"/>
<rect x="1100.7" y="300.6" width="3.6" height="4.8" fill="none" stroke="#dc3434" stroke-width="1.35"/>
<rect x="1107.7" y="268.6" width="3.6" height="25.8" fill="none" stroke="#dc3434" stroke-width="1.35"/>
<rect x="1115" y="263" width="1" height="1" fill="#dc3434"/>
<rect x="1115" y="266" width="1" height="6" fill="#dc3434"/>
<rect x="1113.7" y="264.6" width="3.6" height="0.8" fill="none" stroke="#dc3434" stroke-width="1.35"/>
<rect x="1122" y="269" width="1" height="1" fill="#dc3434"/>
<rect x="1120.7" y="270.6" width="3.6" height="0.8" fill="none" stroke="#dc3434" stroke-width="1.35"/>
<rect x="1128" y="265" width="1" height="10" fill="#00ffff"/>
<rect x="1126" y="265" width="5" height="1" fill="#00ffff"/>
<rect x="1135" y="258" width="1" height="2" fill="#dc3434"/>
<rect x="1133.7" y="260.6" width="3.6" height="7.8" fill="none" stroke="#dc3434" stroke-width="1.35"/>
<rect x="1142" y="276" width="1" height="5" fill="#dc3434"/>
<rect x="1140.7" y="281.6" width="3.6" height="3.8" fill="none" stroke="#dc3434" stroke-width="1.35"/>
<rect x="1148" y="249" width="1" height="9" fill="#dc3434"/>
<rect x="1146.7" y="258.6" width="3.6" height="9.8" fill="none" stroke="#dc3434" stroke-width="1.35"/>
<rect x="1155" y="255" width="1" height="10" fill="#00ffff"/>
<rect x="1153" y="258" width="5" height="7" fill="#00ffff"/>
<rect x="1161" y="259" width="1" height="10" fill="#00ffff"/>
<rect x="1159" y="260" width="5" height="2" fill="#00ffff"/>
<rect x="1168" y="250" width="1" height="19" fill="#00ffff"/>
<rect x="1166" y="254" width="5" height="11" fill="#00ffff"/>
<rect x="1172.7" y="244.6" width="3.6" height="21.8" fill="none" stroke="#dc3434" stroke-width="1.35"/>
<rect x="1181" y="241" width="1" height="1" fill="#dc3434"/>
<rect x="1181" y="244" width="1" height="6" fill="#dc3434"/>
<rect x="1179.7" y="242.6" width="3.6" height="0.8" fill="none" stroke="#dc3434" stroke-width="1.35"/>
<rect x="1186.7" y="226.6" width="3.6" height="16.8" fill="none" stroke="#dc3434" stroke-width="1.35"/>
<rect x="1194" y="196" width="1" height="16" fill="#dc3434"/>
<rect x="1192.7" y="212.6" width="3.6" height="6.8" fill="none" stroke="#dc3434" stroke-width="1.35"/>
<rect x="1201" y="206" width="1" height="7" fill="#dc3434"/>
<rect x="1199.7" y="204.6" width="3.6" height="0.8" fill="none" stroke="#dc3434" stroke-width="1.35"/>
<rect x="1207" y="191" width="1" height="8" fill="#dc3434"/>
<rect x="1205.7" y="189.6" width="3.6" height="0.8" fill="none" stroke="#dc3434" stroke-width="1.35"/>
<rect x="1214" y="187" width="1" height="12" fill="#00ffff"/>
<rect x="1212" y="187" width="5" height="4" fill="#00ffff"/>
<rect x="1220" y="186" width="1" height="14" fill="#00ffff"/>
<rect x="1218" y="186" width="5" height="14" fill="#00ffff"/>
<rect x="1227" y="195" width="1" height="6" fill="#dc3434"/>
<rect x="1225.7" y="185.6" width="3.6" height="8.8" fill="none" stroke="#dc3434" stroke-width="1.35"/>
<rect x="1234" y="181" width="1" height="10" fill="#00ffff"/>
<rect x="1232" y="181" width="5" height="4" fill="#00ffff"/>
<rect x="1240" y="190" width="1" height="29" fill="#00ffff"/>
<rect x="1238" y="190" width="5" height="24" fill="#00ffff"/>
<rect x="1247" y="206" width="1" height="4" fill="#dc3434"/>
<rect x="1245.7" y="210.6" width="3.6" height="0.8" fill="none" stroke="#dc3434" stroke-width="1.35"/>
<rect x="1253" y="203" width="1" height="1" fill="#dc3434"/>
<rect x="1253" y="208" width="1" height="9" fill="#dc3434"/>
<rect x="1251.7" y="204.6" width="3.6" height="2.8" fill="none" stroke="#dc3434" stroke-width="1.35"/>
<rect x="1260" y="198" width="1" height="1" fill="#dc3434"/>
<rect x="1260" y="202" width="1" height="3" fill="#dc3434"/>
<rect x="1258.7" y="199.6" width="3.6" height="1.8" fill="none" stroke="#dc3434" stroke-width="1.35"/>
<rect x="1266" y="204" width="1" height="21" fill="#00ffff"/>
<rect x="1264" y="204" width="5" height="11" fill="#00ffff"/>
<rect x="1273" y="202" width="1" height="10" fill="#dc3434"/>
<rect x="1271.7" y="212.6" width="3.6" height="2.8" fill="none" stroke="#dc3434" stroke-width="1.35"/>
<rect x="1280" y="216" width="1" height="12" fill="#00ffff"/>
<rect x="1278" y="216" width="5" height="12" fill="#00ffff"/>
<rect x="1286" y="219" width="1" height="23" fill="#00ffff"/>
<rect x="1284" y="223" width="5" height="19" fill="#00ffff"/>
<rect x="1293" y="238" width="1" height="3" fill="#dc3434"/>
<rect x="1293" y="242" width="1" height="5" fill="#dc3434"/>
<rect x="1291" y="241" width="5" height="1" fill="#dc3434"/>
<rect x="1299" y="238" width="1" height="16" fill="#00ffff"/>
<rect x="1297" y="243" width="5" height="11" fill="#00ffff"/>
<rect x="1306" y="241" width="1" height="9" fill="#dc3434"/>
<rect x="1304.7" y="250.6" width="3.6" height="4.8" fill="none" stroke="#dc3434" stroke-width="1.35"/>
<rect x="1310.7" y="244.6" width="3.6" height="13.8" fill="none" stroke="#dc3434" stroke-width="1.35"/>
<rect x="1317.7" y="233.6" width="3.6" height="13.8" fill="none" stroke="#dc3434" stroke-width="1.35"/>
<rect x="1326" y="216" width="1" height="1" fill="#dc3434"/>
<rect x="1324.7" y="217.6" width="3.6" height="13.8" fill="none" stroke="#dc3434" stroke-width="1.35"/>
<rect x="1332" y="192" width="1" height="7" fill="#dc3434"/>
<rect x="1330.7" y="199.6" width="3.6" height="7.8" fill="none" stroke="#dc3434" stroke-width="1.35"/>
<rect x="1339" y="199" width="1" height="10" fill="#00ffff"/>
<rect x="1337" y="199" width="5" height="10" fill="#00ffff"/>
<rect x="1345" y="198" width="1" height="16" fill="#00ffff"/>
<rect x="1343" y="206" width="5" height="8" fill="#00ffff"/>
<rect x="1352" y="210" width="1" height="9" fill="#00ffff"/>
<rect x="1350" y="214" width="5" height="2" fill="#00ffff"/>
<rect x="1358" y="210" width="1" height="29" fill="#00ffff"/>
<rect x="1356" y="212" width="5" height="24" fill="#00ffff"/>
<rect x="1365" y="236" width="1" height="1" fill="#dc3434"/>
<rect x="1365" y="240" width="1" height="9" fill="#dc3434"/>
<rect x="1363.7" y="237.6" width="3.6" height="1.8" fill="none" stroke="#dc3434" stroke-width="1.35"/>
<rect x="1370.7" y="229.6" width="3.6" height="6.8" fill="none" stroke="#dc3434" stroke-width="1.35"/>
<rect x="1378" y="226" width="1" height="13" fill="#00ffff"/>
<rect x="1376" y="228" width="5" height="8" fill="#00ffff"/>
<rect x="1385" y="229" width="1" height="14" fill="#00ffff"/>
<rect x="1383" y="232" width="5" height="2" fill="#00ffff"/>
<rect x="1391" y="230" width="1" height="1" fill="#dc3434"/>
<rect x="1391" y="236" width="1" height="11" fill="#dc3434"/>
<rect x="1389.7" y="231.6" width="3.6" height="3.8" fill="none" stroke="#dc3434" stroke-width="1.35"/>
<rect x="1398" y="227" width="1" height="1" fill="#dc3434"/>
<rect x="1396.7" y="214.6" width="3.6" height="11.8" fill="none" stroke="#dc3434" stroke-width="1.35"/>
<rect x="1404" y="214" width="1" height="14" fill="#00ffff"/>
<rect x="1402" y="214" width="5" height="13" fill="#00ffff"/>
<rect x="1411" y="229" width="1" height="9" fill="#00ffff"/>
<rect x="1409" y="231" width="5" height="6" fill="#00ffff"/>
<rect x="1418" y="230" width="1" height="15" fill="#00ffff"/>
<rect x="1416" y="231" width="5" height="13" fill="#00ffff"/>
<rect x="1424" y="226" width="1" height="1" fill="#dc3434"/>
<rect x="1424" y="245" width="1" height="3" fill="#dc3434"/>
<rect x="1422.7" y="227.6" width="3.6" height="16.8" fill="none" stroke="#dc3434" stroke-width="1.35"/>
<rect x="1431" y="214" width="1" height="2" fill="#dc3434"/>
<rect x="1429.7" y="216.6" width="3.6" height="6.8" fill="none" stroke="#dc3434" stroke-width="1.35"/>
<rect x="1437" y="199" width="1" height="9" fill="#dc3434"/>
<rect x="1437" y="216" width="1" height="4" fill="#dc3434"/>
<rect x="1435.7" y="208.6" width="3.6" height="6.8" fill="none" stroke="#dc3434" stroke-width="1.35"/>
<rect x="1444" y="205" width="1" height="15" fill="#00ffff"/>
<rect x="1442" y="206" width="5" height="8" fill="#00ffff"/>
<polyline points="5.5,401.0 11.5,402.0 18.5,402.8 25.5,402.9 31.5,403.9 38.5,404.7 44.5,406.0 51.5,407.8 57.5,409.9 64.5,412.3 71.5,414.4 77.5,416.8 84.5,419.3 90.5,422.0 97.5,424.4 103.5,427.3 110.5,430.1 117.5,431.7 123.5,432.9 130.5,434.2 136.5,435.0 143.5,436.0 149.5,436.6 156.5,437.5 162.5,437.7 169.5,437.8 176.5,438.2 182.5,437.8 189.5,437.0 195.5,437.1 202.5,436.9 208.5,436.6 215.5,436.0 222.5,435.6 228.5,435.3 235.5,435.4 241.5,435.3 248.5,434.5 254.5,432.9 261.5,431.0 268.5,428.1 274.5,425.3 281.5,423.5 287.5,420.2 294.5,417.0 300.5,413.8 307.5,410.9 314.5,407.0 320.5,399.9 327.5,393.4 333.5,386.9 340.5,381.0 346.5,374.2 353.5,366.8 360.5,359.2 366.5,350.9 373.5,342.8 379.5,337.9 386.5,332.0 392.5,325.7 399.5,320.2 406.5,315.8 412.5,310.9 419.5,304.5 425.5,298.6 432.5,292.8 438.5,287.1 445.5,281.6 452.5,277.6 458.5,274.7 465.5,271.4 471.5,268.8 478.5,264.3 484.5,258.2 491.5,252.1 498.5,245.5 504.5,238.5 511.5,231.7 517.5,225.4 524.5,219.2 530.5,214.4 537.5,209.9 544.5,205.8 550.5,200.1 557.5,194.5 563.5,189.4 570.5,184.2 576.5,180.2 583.5,176.7 590.5,173.3 596.5,171.8 603.5,171.2 609.5,171.0 616.5,170.6 622.5,173.9 629.5,176.7 636.5,180.1 642.5,184.2 649.5,186.2 655.5,189.0 662.5,192.0 668.5,193.8 675.5,195.1 682.5,198.0 688.5,201.0 695.5,203.1 701.5,205.4 708.5,208.5 714.5,211.5 721.5,213.5 728.5,215.1 734.5,216.5 741.5,218.0 747.5,219.7 754.5,221.4 760.5,223.6 767.5,225.9 774.5,228.7 780.5,230.9 787.5,231.4 793.5,232.3 800.5,233.0 806.5,234.4 813.5,235.6 820.5,236.8 826.5,237.2 833.5,236.1 839.5,234.8 846.5,233.4 852.5,232.5 859.5,231.9 866.5,230.8 872.5,230.2 879.5,228.1 885.5,226.2 892.5,224.9 898.5,223.9 905.5,222.9 912.5,223.5 918.5,224.3 925.5,225.4 931.5,226.3 938.5,226.8 944.5,227.2 951.5,227.6 958.5,228.1 964.5,229.3 971.5,229.9 977.5,231.2 984.5,232.3 990.5,232.8 997.5,233.0 1004.5,233.1 1010.5,233.1 1017.5,232.9 1023.5,233.2 1030.5,234.0 1036.5,235.6 1043.5,238.2 1050.5,241.7 1056.5,245.2 1063.5,247.9 1069.5,251.1 1076.5,253.3 1082.5,255.7 1089.5,257.8 1096.5,259.6 1102.5,261.2 1109.5,261.5 1115.5,261.6 1122.5,261.9 1128.5,262.1 1135.5,262.0 1142.5,262.7 1148.5,262.5 1155.5,262.6 1161.5,262.6 1168.5,262.7 1174.5,261.9 1181.5,261.1 1188.5,259.8 1194.5,257.9 1201.5,255.8 1207.5,253.1 1214.5,250.7 1220.5,248.7 1227.5,246.2 1234.5,243.8 1240.5,242.7 1247.5,241.4 1253.5,239.9 1260.5,238.3 1266.5,237.4 1273.5,236.4 1280.5,236.1 1286.5,236.3 1293.5,236.5 1299.5,237.2 1306.5,237.7 1312.5,238.0 1319.5,237.8 1326.5,237.0 1332.5,235.5 1339.5,234.4 1345.5,233.6 1352.5,232.9 1358.5,233.1 1365.5,233.2 1372.5,233.1 1378.5,233.1 1385.5,233.2 1391.5,233.1 1398.5,232.4 1404.5,232.1 1411.5,232.3 1418.5,232.8 1424.5,232.6 1431.5,231.9 1437.5,231.0 1444.5,230.3" fill="none" stroke="#f0f000" stroke-width="1.1"/>
<polyline points="5.5,417.5 11.5,419.0 18.5,419.6 25.5,417.3 31.5,418.8 38.5,419.8 44.5,422.6 51.5,427.3 57.5,432.3 64.5,438.2 71.5,442.4 77.5,447.7 84.5,452.8 90.5,458.2 97.5,461.9 103.5,467.6 110.5,472.5 117.5,472.2 123.5,470.7 130.5,469.8 136.5,467.7 143.5,466.6 149.5,464.0 156.5,463.6 162.5,460.2 169.5,457.3 176.5,455.9 182.5,451.5 189.5,446.3 195.5,445.0 202.5,443.3 208.5,440.9 215.5,438.2 222.5,436.2 228.5,434.8 235.5,435.3 241.5,435.0 248.5,431.8 254.5,425.9 261.5,419.7 268.5,409.9 274.5,401.8 281.5,398.4 287.5,389.2 294.5,381.4 300.5,374.4 307.5,369.1 314.5,360.3 320.5,339.5 327.5,323.5 333.5,308.7 340.5,297.4 346.5,283.5 353.5,268.6 360.5,253.8 366.5,237.4 373.5,223.0 379.5,222.5 386.5,217.1 392.5,209.8 399.5,206.3 406.5,206.5 412.5,203.9 419.5,195.6 425.5,188.9 432.5,183.3 438.5,177.7 445.5,172.8 452.5,173.8 458.5,178.6 465.5,180.3 471.5,184.2 478.5,179.4 484.5,168.6 491.5,158.6 498.5,147.1 504.5,134.5 511.5,124.0 517.5,115.9 524.5,108.5 530.5,106.8 537.5,105.5 544.5,105.3 550.5,98.7 557.5,92.1 563.5,87.8 570.5,83.0 576.5,82.9 583.5,84.3 590.5,85.3 596.5,92.9 603.5,102.6 609.5,112.5 616.5,120.0 622.5,140.7 629.5,156.6 636.5,172.9 642.5,190.1 649.5,197.3 655.5,206.4 662.5,215.7 668.5,218.9 675.5,220.3 682.5,227.6 688.5,234.8 695.5,237.8 701.5,241.5 708.5,248.3 714.5,254.0 721.5,255.2 728.5,255.0 734.5,254.3 741.5,254.7 747.5,255.3 754.5,256.6 760.5,259.9 767.5,263.2 774.5,268.7 780.5,271.1 787.5,267.0 793.5,264.9 800.5,262.7 806.5,263.5 813.5,263.6 820.5,264.0 826.5,261.5 833.5,253.6 839.5,245.7 846.5,238.5 852.5,234.3 859.5,231.5 866.5,227.4 872.5,225.3 879.5,218.1 885.5,211.9 892.5,209.2 898.5,207.9 905.5,206.1 912.5,211.2 918.5,216.3 925.5,221.6 931.5,225.7 938.5,228.1 944.5,229.1 951.5,230.6 958.5,232.2 964.5,236.1 971.5,237.3 977.5,241.5 984.5,244.1 990.5,244.2 997.5,243.3 1004.5,241.9 1010.5,240.9 1017.5,238.7 1023.5,238.9 1030.5,241.2 1036.5,246.6 1043.5,255.0 1050.5,266.0 1056.5,276.0 1063.5,282.2 1069.5,289.3 1076.5,291.9 1082.5,295.5 1089.5,297.5 1096.5,298.7 1102.5,298.8 1109.5,294.1 1115.5,289.5 1122.5,286.4 1128.5,283.4 1135.5,279.7 1142.5,279.9 1148.5,276.5 1155.5,274.7 1161.5,272.7 1168.5,271.5 1174.5,267.3 1181.5,263.3 1188.5,257.6 1194.5,250.6 1201.5,243.4 1207.5,235.0 1214.5,228.2 1220.5,223.8 1227.5,217.9 1234.5,212.9 1240.5,213.2 1247.5,212.8 1253.5,211.3 1260.5,209.5 1266.5,210.4 1273.5,210.5 1280.5,213.2 1286.5,217.6 1293.5,221.2 1299.5,226.3 1306.5,230.0 1312.5,232.2 1319.5,232.3 1326.5,230.0 1332.5,225.3 1339.5,222.7 1345.5,221.4 1352.5,220.5 1358.5,222.9 1365.5,225.1 1372.5,225.7 1378.5,227.2 1385.5,228.2 1391.5,228.7 1398.5,226.4 1404.5,226.5 1411.5,228.1 1418.5,230.6 1424.5,230.0 1431.5,227.9 1437.5,224.9 1444.5,223.2" fill="none" stroke="#e8e8e8" stroke-width="1.1"/>
<rect x="2" y="227" width="1466" height="1" fill="#5a5a00"/>
<rect x="2" y="228" width="1466" height="1" fill="#ecec00"/>
<rect x="2" y="229" width="1466" height="1" fill="#3a3a00"/>
<rect x="2" y="269" width="1466" height="1" fill="#5a5a00"/>
<rect x="2" y="270" width="1466" height="1" fill="#ecec00"/>
<rect x="2" y="271" width="1466" height="1" fill="#3a3a00"/>
<rect x="2" y="303" width="1466" height="1" fill="#5a5a00"/>
<rect x="2" y="304" width="1466" height="1" fill="#ecec00"/>
<rect x="2" y="305" width="1466" height="1" fill="#3a3a00"/>
<rect x="2" y="371" width="1466" height="1" fill="#5a5a00"/>
<rect x="2" y="372" width="1466" height="1" fill="#ecec00"/>
<rect x="2" y="373" width="1466" height="1" fill="#3a3a00"/>
<rect x="3" y="686" width="5" height="28" fill="#00ffff"/>
<rect x="9.7" y="688.6" width="3.6" height="24.8" fill="none" stroke="#dc3434" stroke-width="1.35"/>
<rect x="16" y="686" width="5" height="28" fill="#00ffff"/>
<rect x="23.7" y="676.6" width="3.6" height="36.8" fill="none" stroke="#dc3434" stroke-width="1.35"/>
<rect x="29" y="676" width="5" height="38" fill="#00ffff"/>
<rect x="36.7" y="684.6" width="3.6" height="28.8" fill="none" stroke="#dc3434" stroke-width="1.35"/>
<rect x="42" y="684" width="5" height="30" fill="#00ffff"/>
<rect x="49" y="687" width="5" height="27" fill="#00ffff"/>
<rect x="55" y="684" width="5" height="30" fill="#00ffff"/>
<rect x="62" y="684" width="5" height="30" fill="#00ffff"/>
<rect x="69.7" y="688.6" width="3.6" height="24.8" fill="none" stroke="#dc3434" stroke-width="1.35"/>
<rect x="75.7" y="678.6" width="3.6" height="34.8" fill="none" stroke="#dc3434" stroke-width="1.35"/>
<rect x="82" y="684" width="5" height="30" fill="#00ffff"/>
<rect x="88" y="680" width="5" height="34" fill="#00ffff"/>
<rect x="95.7" y="684.6" width="3.6" height="28.8" fill="none" stroke="#dc3434" stroke-width="1.35"/>
<rect x="101" y="683" width="5" height="31" fill="#00ffff"/>
<rect x="108.7" y="682.6" width="3.6" height="30.8" fill="none" stroke="#dc3434" stroke-width="1.35"/>
<rect x="115.7" y="672.6" width="3.6" height="40.8" fill="none" stroke="#dc3434" stroke-width="1.35"/>
<rect x="121.7" y="669.6" width="3.6" height="43.8" fill="none" stroke="#dc3434" stroke-width="1.35"/>
<rect x="128" y="674" width="5" height="40" fill="#00ffff"/>
<rect x="134.7" y="666.6" width="3.6" height="46.8" fill="none" stroke="#dc3434" stroke-width="1.35"/>
<rect x="141" y="674" width="5" height="40" fill="#00ffff"/>
<rect x="147.7" y="677.6" width="3.6" height="35.8" fill="none" stroke="#dc3434" stroke-width="1.35"/>
<rect x="154" y="677" width="5" height="37" fill="#00ffff"/>
<rect x="160.7" y="676.6" width="3.6" height="36.8" fill="none" stroke="#dc3434" stroke-width="1.35"/>
<rect x="167.7" y="676.6" width="3.6" height="36.8" fill="none" stroke="#dc3434" stroke-width="1.35"/>
<rect x="174" y="676" width="5" height="38" fill="#00ffff"/>
<rect x="180.7" y="666.6" width="3.6" height="46.8" fill="none" stroke="#dc3434" stroke-width="1.35"/>
<rect x="187.7" y="674.6" width="3.6" height="38.8" fill="none" stroke="#dc3434" stroke-width="1.35"/>
<rect x="193" y="674" width="5" height="40" fill="#00ffff"/>
<rect x="200.7" y="681.6" width="3.6" height="31.8" fill="none" stroke="#dc3434" stroke-width="1.35"/>
<rect x="206.7" y="676.6" width="3.6" height="36.8" fill="none" stroke="#dc3434" stroke-width="1.35"/>
<rect x="213.7" y="674.6" width="3.6" height="38.8" fill="none" stroke="#dc3434" stroke-width="1.35"/>
<rect x="220" y="677" width="5" height="37" fill="#00ffff"/>
<rect x="226.7" y="677.6" width="3.6" height="35.8" fill="none" stroke="#dc3434" stroke-width="1.35"/>
<rect x="233" y="682" width="5" height="32" fill="#00ffff"/>
<rect x="239.7" y="677.6" width="3.6" height="35.8" fill="none" stroke="#dc3434" stroke-width="1.35"/>
<rect x="246.7" y="681.6" width="3.6" height="31.8" fill="none" stroke="#dc3434" stroke-width="1.35"/>
<rect x="252.7" y="676.6" width="3.6" height="36.8" fill="none" stroke="#dc3434" stroke-width="1.35"/>
<rect x="259.7" y="668.6" width="3.6" height="44.8" fill="none" stroke="#dc3434" stroke-width="1.35"/>
<rect x="266.7" y="652.6" width="3.6" height="60.8" fill="none" stroke="#dc3434" stroke-width="1.35"/>
<rect x="272.7" y="665.6" width="3.6" height="47.8" fill="none" stroke="#dc3434" stroke-width="1.35"/>
<rect x="279" y="666" width="5" height="48" fill="#00ffff"/>
<rect x="285.7" y="650.6" width="3.6" height="62.8" fill="none" stroke="#dc3434" stroke-width="1.35"/>
<rect x="292" y="642" width="5" height="72" fill="#00ffff"/>
<rect x="298.7" y="654.6" width="3.6" height="58.8" fill="none" stroke="#dc3434" stroke-width="1.35"/>
<rect x="305" y="639" width="5" height="75" fill="#00ffff"/>
<rect x="312.7" y="639.6" width="3.6" height="73.8" fill="none" stroke="#dc3434" stroke-width="1.35"/>
<rect x="318.7" y="583.6" width="3.6" height="129.8" fill="none" stroke="#dc3434" stroke-width="1.35"/>
<rect x="325" y="574" width="5" height="140" fill="#00ffff"/>
<rect x="331.7" y="597.6" width="3.6" height="115.8" fill="none" stroke="#dc3434" stroke-width="1.35"/>
<rect x="338" y="627" width="5" height="87" fill="#00ffff"/>
<rect x="344.7" y="628.6" width="3.6" height="84.8" fill="none" stroke="#dc3434" stroke-width="1.35"/>
<rect x="351.7" y="583.6" width="3.6" height="129.8" fill="none" stroke="#dc3434" stroke-width="1.35"/>
<rect x="358.7" y="607.6" width="3.6" height="105.8" fill="none" stroke="#dc3434" stroke-width="1.35"/>
<rect x="364.7" y="577.6" width="3.6" height="135.8" fill="none" stroke="#dc3434" stroke-width="1.35"/>
<rect x="371.7" y="570.6" width="3.6" height="142.8" fill="none" stroke="#dc3434" stroke-width="1.35"/>
<rect x="377" y="571" width="5" height="143" fill="#00ffff"/>
<rect x="384.7" y="608.6" width="3.6" height="104.8" fill="none" stroke="#dc3434" stroke-width="1.35"/>
<rect x="390.7" y="588.6" width="3.6" height="124.8" fill="none" stroke="#dc3434" stroke-width="1.35"/>
<rect x="397" y="601" width="5" height="113" fill="#00ffff"/>
<rect x="404" y="621" width="5" height="93" fill="#00ffff"/>
<rect x="410.7" y="630.6" width="3.6" height="82.8" fill="none" stroke="#dc3434" stroke-width="1.35"/>
<rect x="417.7" y="615.6" width="3.6" height="97.8" fill="none" stroke="#dc3434" stroke-width="1.35"/>
<rect x="423" y="627" width="5" height="87" fill="#00ffff"/>
<rect x="430.7" y="625.6" width="3.6" height="87.8" fill="none" stroke="#dc3434" stroke-width="1.35"/>
<rect x="436.7" y="612.6" width="3.6" height="100.8" fill="none" stroke="#dc3434" stroke-width="1.35"/>
<rect x="443.7" y="624.6" width="3.6" height="88.8" fill="none" stroke="#dc3434" stroke-width="1.35"/>
<rect x="450" y="619" width="5" height="95" fill="#00ffff"/>
<rect x="456" y="627" width="5" height="87" fill="#00ffff"/>
<rect x="463.7" y="642.6" width="3.6" height="70.8" fill="none" stroke="#dc3434" stroke-width="1.35"/>
<rect x="469" y="642" width="5" height="72" fill="#00ffff"/>
<rect x="476.7" y="621.6" width="3.6" height="91.8" fill="none" stroke="#dc3434" stroke-width="1.35"/>
<rect x="482.7" y="598.6" width="3.6" height="114.8" fill="none" stroke="#dc3434" stroke-width="1.35"/>
<rect x="489" y="603" width="5" height="111" fill="#00ffff"/>
<rect x="496.7" y="607.6" width="3.6" height="105.8" fill="none" stroke="#dc3434" stroke-width="1.35"/>
<rect x="502.7" y="598.6" width="3.6" height="114.8" fill="none" stroke="#dc3434" stroke-width="1.35"/>
<rect x="509" y="590" width="5" height="124" fill="#00ffff"/>
<rect x="515" y="624" width="5" height="90" fill="#00ffff"/>
<rect x="522.7" y="619.6" width="3.6" height="93.8" fill="none" stroke="#dc3434" stroke-width="1.35"/>
<rect x="528" y="627" width="5" height="87" fill="#00ffff"/>
<rect x="535.7" y="642.6" width="3.6" height="70.8" fill="none" stroke="#dc3434" stroke-width="1.35"/>
<rect x="542" y="628" width="5" height="86" fill="#00ffff"/>
<rect x="548.7" y="625.6" width="3.6" height="87.8" fill="none" stroke="#dc3434" stroke-width="1.35"/>
<rect x="555.7" y="625.6" width="3.6" height="87.8" fill="none" stroke="#dc3434" stroke-width="1.35"/>
<rect x="561" y="632" width="5" height="82" fill="#00ffff"/>
<rect x="568.7" y="636.6" width="3.6" height="76.8" fill="none" stroke="#dc3434" stroke-width="1.35"/>
<rect x="574" y="627" width="5" height="87" fill="#00ffff"/>
<rect x="581" y="632" width="5" height="82" fill="#00ffff"/>
<rect x="588" y="645" width="5" height="69" fill="#00ffff"/>
<rect x="594" y="634" width="5" height="80" fill="#00ffff"/>
<rect x="601" y="643" width="5" height="71" fill="#00ffff"/>
<rect x="607" y="641" width="5" height="73" fill="#00ffff"/>
<rect x="614.7" y="658.6" width="3.6" height="54.8" fill="none" stroke="#dc3434" stroke-width="1.35"/>
<rect x="620" y="632" width="5" height="82" fill="#00ffff"/>
<rect x="627.7" y="651.6" width="3.6" height="61.8" fill="none" stroke="#dc3434" stroke-width="1.35"/>
<rect x="634.7" y="656.6" width="3.6" height="56.8" fill="none" stroke="#dc3434" stroke-width="1.35"/>
<rect x="640" y="665" width="5" height="49" fill="#00ffff"/>
<rect x="647.7" y="643.6" width="3.6" height="69.8" fill="none" stroke="#dc3434" stroke-width="1.35"/>
<rect x="653" y="661" width="5" height="53" fill="#00ffff"/>
<rect x="660.7" y="661.6" width="3.6" height="51.8" fill="none" stroke="#dc3434" stroke-width="1.35"/>
<rect x="666.7" y="658.6" width="3.6" height="54.8" fill="none" stroke="#dc3434" stroke-width="1.35"/>
<rect x="673.7" y="653.6" width="3.6" height="59.8" fill="none" stroke="#dc3434" stroke-width="1.35"/>
<rect x="680" y="648" width="5" height="66" fill="#00ffff"/>
<rect x="686" y="661" width="5" height="53" fill="#00ffff"/>
<rect x="693.7" y="661.6" width="3.6" height="51.8" fill="none" stroke="#dc3434" stroke-width="1.35"/>
<rect x="699" y="664" width="5" height="50" fill="#00ffff"/>
<rect x="706" y="664" width="5" height="50" fill="#00ffff"/>
<rect x="712.7" y="672.6" width="3.6" height="40.8" fill="none" stroke="#dc3434" stroke-width="1.35"/>
<rect x="719.7" y="666.6" width="3.6" height="46.8" fill="none" stroke="#dc3434" stroke-width="1.35"/>
<rect x="726.7" y="659.6" width="3.6" height="53.8" fill="none" stroke="#dc3434" stroke-width="1.35"/>
<rect x="732.7" y="662.6" width="3.6" height="50.8" fill="none" stroke="#dc3434" stroke-width="1.35"/>
<rect x="739.7" y="662.6" width="3.6" height="50.8" fill="none" stroke="#dc3434" stroke-width="1.35"/>
<rect x="745" y="663" width="5" height="51" fill="#00ffff"/>
<rect x="752" y="660" width="5" height="54" fill="#00ffff"/>
<rect x="758" y="664" width="5" height="50" fill="#00ffff"/>
<rect x="765" y="669" width="5" height="45" fill="#00ffff"/>
<rect x="772" y="669" width="5" height="45" fill="#00ffff"/>
<rect x="778.7" y="672.6" width="3.6" height="40.8" fill="none" stroke="#dc3434" stroke-width="1.35"/>
<rect x="785.7" y="650.6" width="3.6" height="62.8" fill="none" stroke="#dc3434" stroke-width="1.35"/>
<rect x="791" y="654" width="5" height="60" fill="#00ffff"/>
<rect x="798.7" y="661.6" width="3.6" height="51.8" fill="none" stroke="#dc3434" stroke-width="1.35"/>
<rect x="804" y="659" width="5" height="55" fill="#00ffff"/>
<rect x="811.7" y="675.6" width="3.6" height="37.8" fill="none" stroke="#dc3434" stroke-width="1.35"/>
<rect x="818" y="676" width="5" height="38" fill="#00ffff"/>
<rect x="824" y="657" width="5" height="57" fill="#00ffff"/>
<rect x="831.7" y="642.6" width="3.6" height="70.8" fill="none" stroke="#dc3434" stroke-width="1.35"/>
<rect x="837.7" y="642.6" width="3.6" height="70.8" fill="none" stroke="#dc3434" stroke-width="1.35"/>
<rect x="844.7" y="662.6" width="3.6" height="50.8" fill="none" stroke="#dc3434" stroke-width="1.35"/>
<rect x="850" y="652" width="5" height="62" fill="#00ffff"/>
<rect x="857.7" y="670.6" width="3.6" height="42.8" fill="none" stroke="#dc3434" stroke-width="1.35"/>
<rect x="864.7" y="664.6" width="3.6" height="48.8" fill="none" stroke="#dc3434" stroke-width="1.35"/>
<rect x="870" y="669" width="5" height="45" fill="#00ffff"/>
<rect x="877.7" y="651.6" width="3.6" height="61.8" fill="none" stroke="#dc3434" stroke-width="1.35"/>
<rect x="883.7" y="660.6" width="3.6" height="52.8" fill="none" stroke="#dc3434" stroke-width="1.35"/>
<rect x="890" y="662" width="5" height="52" fill="#00ffff"/>
<rect x="896" y="664" width="5" height="50" fill="#00ffff"/>
<rect x="903.7" y="675.6" width="3.6" height="37.8" fill="none" stroke="#dc3434" stroke-width="1.35"/>
<rect x="910" y="662" width="5" height="52" fill="#00ffff"/>
<rect x="916" y="676" width="5" height="38" fill="#00ffff"/>
<rect x="923" y="679" width="5" height="35" fill="#00ffff"/>
<rect x="929" y="678" width="5" height="36" fill="#00ffff"/>
<rect x="936.7" y="679.6" width="3.6" height="33.8" fill="none" stroke="#dc3434" stroke-width="1.35"/>
<rect x="942.7" y="672.6" width="3.6" height="40.8" fill="none" stroke="#dc3434" stroke-width="1.35"/>
<rect x="949" y="680" width="5" height="34" fill="#00ffff"/>
<rect x="956" y="678" width="5" height="36" fill="#00ffff"/>
<rect x="962" y="677" width="5" height="37" fill="#00ffff"/>
<rect x="969.7" y="677.6" width="3.6" height="35.8" fill="none" stroke="#dc3434" stroke-width="1.35"/>
<rect x="975" y="669" width="5" height="45" fill="#00ffff"/>
<rect x="982.7" y="680.6" width="3.6" height="32.8" fill="none" stroke="#dc3434" stroke-width="1.35"/>
<rect x="988.7" y="677.6" width="3.6" height="35.8" fill="none" stroke="#dc3434" stroke-width="1.35"/>
<rect x="995.7" y="677.6" width="3.6" height="35.8" fill="none" stroke="#dc3434" stroke-width="1.35"/>
<rect x="1002.7" y="678.6" width="3.6" height="34.8" fill="none" stroke="#dc3434" stroke-width="1.35"/>
<rect x="1008" y="680" width="5" height="34" fill="#00ffff"/>
<rect x="1015.7" y="679.6" width="3.6" height="33.8" fill="none" stroke="#dc3434" stroke-width="1.35"/>
<rect x="1021" y="679" width="5" height="35" fill="#00ffff"/>
<rect x="1028" y="679" width="5" height="35" fill="#00ffff"/>
<rect x="1034.7" y="668.6" width="3.6" height="44.8" fill="none" stroke="#dc3434" stroke-width="1.35"/>
<rect x="1041" y="672" width="5" height="42" fill="#00ffff"/>
<rect x="1048.7" y="656.6" width="3.6" height="56.8" fill="none" stroke="#dc3434" stroke-width="1.35"/>
<rect x="1054" y="674" width="5" height="40" fill="#00ffff"/>
<rect x="1061.7" y="676.6" width="3.6" height="36.8" fill="none" stroke="#dc3434" stroke-width="1.35"/>
<rect x="1067" y="676" width="5" height="38" fill="#00ffff"/>
<rect x="1074.7" y="681.6" width="3.6" height="31.8" fill="none" stroke="#dc3434" stroke-width="1.35"/>
<rect x="1080" y="680" width="5" height="34" fill="#00ffff"/>
<rect x="1087" y="679" width="5" height="35" fill="#00ffff"/>
<rect x="1094.7" y="675.6" width="3.6" height="37.8" fill="none" stroke="#dc3434" stroke-width="1.35"/>
<rect x="1100.7" y="676.6" width="3.6" height="36.8" fill="none" stroke="#dc3434" stroke-width="1.35"/>
<rect x="1107.7" y="660.6" width="3.6" height="52.8" fill="none" stroke="#dc3434" stroke-width="1.35"/>
<rect x="1113.7" y="666.6" width="3.6" height="46.8" fill="none" stroke="#dc3434" stroke-width="1.35"/>
<rect x="1120.7" y="674.6" width="3.6" height="38.8" fill="none" stroke="#dc3434" stroke-width="1.35"/>
<rect x="1126" y="676" width="5" height="38" fill="#00ffff"/>
<rect x="1133.7" y="674.6" width="3.6" height="38.8" fill="none" stroke="#dc3434" stroke-width="1.35"/>
<rect x="1140.7" y="670.6" width="3.6" height="42.8" fill="none" stroke="#dc3434" stroke-width="1.35"/>
<rect x="1146.7" y="662.6" width="3.6" height="50.8" fill="none" stroke="#dc3434" stroke-width="1.35"/>
<rect x="1153" y="668" width="5" height="46" fill="#00ffff"/>
<rect x="1159" y="670" width="5" height="44" fill="#00ffff"/>
<rect x="1166" y="666" width="5" height="48" fill="#00ffff"/>
<rect x="1172.7" y="663.6" width="3.6" height="49.8" fill="none" stroke="#dc3434" stroke-width="1.35"/>
<rect x="1179.7" y="666.6" width="3.6" height="46.8" fill="none" stroke="#dc3434" stroke-width="1.35"/>
<rect x="1186.7" y="657.6" width="3.6" height="55.8" fill="none" stroke="#dc3434" stroke-width="1.35"/>
<rect x="1192.7" y="638.6" width="3.6" height="74.8" fill="none" stroke="#dc3434" stroke-width="1.35"/>
<rect x="1199.7" y="660.6" width="3.6" height="52.8" fill="none" stroke="#dc3434" stroke-width="1.35"/>
<rect x="1205.7" y="653.6" width="3.6" height="59.8" fill="none" stroke="#dc3434" stroke-width="1.35"/>
<rect x="1212" y="653" width="5" height="61" fill="#00ffff"/>
<rect x="1218" y="657" width="5" height="57" fill="#00ffff"/>
<rect x="1225.7" y="664.6" width="3.6" height="48.8" fill="none" stroke="#dc3434" stroke-width="1.35"/>
<rect x="1232" y="658" width="5" height="56" fill="#00ffff"/>
<rect x="1238" y="658" width="5" height="56" fill="#00ffff"/>
<rect x="1245.7" y="672.6" width="3.6" height="40.8" fill="none" stroke="#dc3434" stroke-width="1.35"/>
<rect x="1251.7" y="673.6" width="3.6" height="39.8" fill="none" stroke="#dc3434" stroke-width="1.35"/>
<rect x="1258.7" y="667.6" width="3.6" height="45.8" fill="none" stroke="#dc3434" stroke-width="1.35"/>
<rect x="1264" y="672" width="5" height="42" fill="#00ffff"/>
<rect x="1271.7" y="672.6" width="3.6" height="40.8" fill="none" stroke="#dc3434" stroke-width="1.35"/>
<rect x="1278" y="672" width="5" height="42" fill="#00ffff"/>
<rect x="1284" y="666" width="5" height="48" fill="#00ffff"/>
<rect x="1291.7" y="680.6" width="3.6" height="32.8" fill="none" stroke="#dc3434" stroke-width="1.35"/>
<rect x="1297" y="684" width="5" height="30" fill="#00ffff"/>
<rect x="1304.7" y="682.6" width="3.6" height="30.8" fill="none" stroke="#dc3434" stroke-width="1.35"/>
<rect x="1310.7" y="681.6" width="3.6" height="31.8" fill="none" stroke="#dc3434" stroke-width="1.35"/>
<rect x="1317.7" y="681.6" width="3.6" height="31.8" fill="none" stroke="#dc3434" stroke-width="1.35"/>
<rect x="1324.7" y="674.6" width="3.6" height="38.8" fill="none" stroke="#dc3434" stroke-width="1.35"/>
<rect x="1330.7" y="662.6" width="3.6" height="50.8" fill="none" stroke="#dc3434" stroke-width="1.35"/>
<rect x="1337" y="675" width="5" height="39" fill="#00ffff"/>
<rect x="1343" y="677" width="5" height="37" fill="#00ffff"/>
<rect x="1350" y="682" width="5" height="32" fill="#00ffff"/>
<rect x="1356" y="677" width="5" height="37" fill="#00ffff"/>
<rect x="1363.7" y="681.6" width="3.6" height="31.8" fill="none" stroke="#dc3434" stroke-width="1.35"/>
<rect x="1370.7" y="684.6" width="3.6" height="28.8" fill="none" stroke="#dc3434" stroke-width="1.35"/>
<rect x="1376" y="682" width="5" height="32" fill="#00ffff"/>
<rect x="1383" y="682" width="5" height="32" fill="#00ffff"/>
<rect x="1389.7" y="680.6" width="3.6" height="32.8" fill="none" stroke="#dc3434" stroke-width="1.35"/>
<rect x="1396.7" y="670.6" width="3.6" height="42.8" fill="none" stroke="#dc3434" stroke-width="1.35"/>
<rect x="1402" y="672" width="5" height="42" fill="#00ffff"/>
<rect x="1409" y="674" width="5" height="40" fill="#00ffff"/>
<rect x="1416" y="674" width="5" height="40" fill="#00ffff"/>
<rect x="1422.7" y="672.6" width="3.6" height="40.8" fill="none" stroke="#dc3434" stroke-width="1.35"/>
<rect x="1429.7" y="672.6" width="3.6" height="40.8" fill="none" stroke="#dc3434" stroke-width="1.35"/>
<rect x="1435.7" y="669.6" width="3.6" height="43.8" fill="none" stroke="#dc3434" stroke-width="1.35"/>
<rect x="1442" y="672" width="5" height="42" fill="#00ffff"/>
<polyline points="5.5,679.6 11.5,680.6 18.5,681.4 25.5,681.1 31.5,680.9 38.5,681.3 44.5,681.8 51.5,682.5 57.5,683.1 64.5,683.6 71.5,684.0 77.5,682.9 84.5,682.7 90.5,683.0 97.5,683.8 103.5,683.8 110.5,683.6 117.5,682.1 123.5,680.6 130.5,679.5 136.5,677.2 143.5,676.8 149.5,676.0 156.5,675.8 162.5,674.9 169.5,674.3 176.5,673.6 182.5,673.0 189.5,673.4 195.5,673.5 202.5,675.0 208.5,675.2 215.5,674.9 222.5,674.9 228.5,675.0 235.5,675.6 241.5,675.8 248.5,677.3 254.5,677.5 261.5,676.8 268.5,674.0 274.5,672.9 281.5,672.1 287.5,669.4 294.5,665.9 300.5,663.0 307.5,659.2 314.5,655.0 320.5,645.7 327.5,636.4 333.5,630.8 340.5,627.0 346.5,623.2 353.5,616.6 360.5,613.1 366.5,605.4 373.5,598.5 379.5,591.8 386.5,594.2 392.5,595.6 399.5,596.0 406.5,595.4 412.5,595.6 419.5,598.7 425.5,600.7 432.5,605.5 438.5,609.7 445.5,615.1 452.5,616.2 458.5,620.1 465.5,624.2 471.5,626.4 478.5,625.5 484.5,623.9 491.5,621.4 498.5,619.6 504.5,618.3 511.5,614.8 517.5,615.3 524.5,614.5 530.5,612.9 537.5,612.9 544.5,613.7 550.5,616.3 557.5,618.6 563.5,621.1 570.5,624.8 576.5,628.6 583.5,629.5 590.5,632.1 596.5,632.8 603.5,632.9 609.5,634.2 616.5,637.5 622.5,638.3 629.5,640.1 636.5,642.1 642.5,645.9 649.5,647.0 655.5,648.6 662.5,651.2 668.5,652.7 675.5,653.8 682.5,652.8 688.5,655.6 695.5,656.6 701.5,657.4 708.5,657.3 714.5,660.2 721.5,660.6 728.5,660.4 734.5,660.9 741.5,661.8 747.5,663.4 754.5,663.3 760.5,663.6 767.5,664.1 774.5,664.6 780.5,664.7 787.5,663.1 793.5,662.6 800.5,662.5 806.5,662.2 813.5,663.4 820.5,665.0 826.5,664.3 833.5,661.6 839.5,658.9 846.5,657.8 852.5,658.0 859.5,659.6 866.5,660.0 872.5,661.0 879.5,658.6 885.5,657.0 892.5,657.5 898.5,659.7 905.5,663.0 912.5,663.0 918.5,665.5 925.5,666.3 931.5,667.7 938.5,668.7 944.5,670.8 951.5,672.8 958.5,674.3 964.5,675.6 971.5,675.8 977.5,676.5 984.5,676.9 990.5,676.7 997.5,676.6 1004.5,676.5 1010.5,677.4 1017.5,677.2 1023.5,677.4 1030.5,677.6 1036.5,676.6 1043.5,676.9 1050.5,674.4 1056.5,674.1 1063.5,674.1 1069.5,673.9 1076.5,674.0 1082.5,674.1 1089.5,674.1 1096.5,673.7 1102.5,674.6 1109.5,673.4 1115.5,674.5 1122.5,674.5 1128.5,674.4 1135.5,674.1 1142.5,673.0 1148.5,671.2 1155.5,670.0 1161.5,669.5 1168.5,668.5 1174.5,668.8 1181.5,668.8 1188.5,667.1 1194.5,663.3 1201.5,662.0 1207.5,660.2 1214.5,659.4 1220.5,658.3 1227.5,657.7 1234.5,656.9 1240.5,656.4 1247.5,657.1 1253.5,658.7 1260.5,661.7 1266.5,662.8 1273.5,664.8 1280.5,666.7 1286.5,667.6 1293.5,669.1 1299.5,671.7 1306.5,674.1 1312.5,675.0 1319.5,675.8 1326.5,676.4 1332.5,675.4 1339.5,675.7 1345.5,676.1 1352.5,677.7 1358.5,677.4 1365.5,677.2 1372.5,677.3 1378.5,677.4 1385.5,677.5 1391.5,678.1 1398.5,679.0 1404.5,678.6 1411.5,678.3 1418.5,677.5 1424.5,677.0 1431.5,676.2 1437.5,674.7 1444.5,673.7" fill="none" stroke="#f0f000" stroke-width="1.1"/>
<polyline points="5.5,684.3 11.5,685.2 18.5,685.7 25.5,684.2 31.5,682.7 38.5,682.3 44.5,681.3 51.5,681.4 57.5,683.0 64.5,684.6 71.5,685.6 77.5,684.5 84.5,684.0 90.5,683.0 97.5,683.0 103.5,681.9 110.5,682.8 117.5,680.3 123.5,678.2 130.5,676.0 136.5,672.6 143.5,670.8 149.5,671.8 156.5,673.4 162.5,673.8 169.5,675.9 176.5,676.4 182.5,674.1 189.5,673.4 195.5,673.2 202.5,674.1 208.5,674.1 215.5,675.7 222.5,676.4 228.5,676.9 235.5,677.2 241.5,677.4 248.5,678.9 254.5,678.6 261.5,676.8 268.5,670.8 274.5,668.4 281.5,665.3 287.5,660.1 294.5,655.0 300.5,655.3 307.5,650.0 314.5,644.6 320.5,631.4 327.5,617.8 333.5,606.3 340.5,604.0 346.5,601.9 353.5,601.9 360.5,608.5 366.5,604.5 373.5,593.1 379.5,581.6 386.5,586.6 392.5,582.7 399.5,587.5 406.5,597.7 412.5,609.5 419.5,610.8 425.5,618.7 432.5,623.5 438.5,621.7 445.5,620.6 452.5,621.5 458.5,621.5 465.5,624.9 471.5,631.0 478.5,630.3 484.5,626.2 491.5,621.4 498.5,614.4 504.5,605.6 511.5,599.4 517.5,604.4 524.5,607.6 530.5,611.5 537.5,620.3 544.5,628.0 550.5,628.3 557.5,629.6 563.5,630.7 570.5,629.4 576.5,629.2 583.5,630.7 590.5,634.6 596.5,634.9 603.5,636.4 609.5,639.3 616.5,644.4 622.5,641.9 629.5,645.3 636.5,647.8 642.5,652.5 649.5,649.5 655.5,655.2 662.5,657.2 668.5,657.5 675.5,655.2 682.5,656.1 688.5,656.1 695.5,656.1 701.5,657.3 708.5,659.5 714.5,664.3 721.5,665.2 728.5,664.8 734.5,664.5 741.5,664.2 747.5,662.4 754.5,661.4 760.5,662.4 767.5,663.8 774.5,665.1 780.5,667.0 787.5,664.9 793.5,662.9 800.5,661.3 806.5,659.3 813.5,659.8 820.5,665.1 826.5,665.7 833.5,661.9 839.5,658.6 846.5,655.9 852.5,650.9 859.5,653.6 866.5,658.0 872.5,663.4 879.5,661.3 885.5,663.0 892.5,661.4 898.5,661.4 905.5,662.6 912.5,664.7 918.5,667.9 925.5,671.3 931.5,674.0 938.5,674.8 944.5,676.8 951.5,677.6 958.5,677.3 964.5,677.2 971.5,676.8 977.5,676.2 984.5,676.2 990.5,676.1 997.5,676.1 1004.5,676.2 1010.5,678.5 1017.5,678.2 1023.5,678.7 1030.5,679.1 1036.5,677.1 1043.5,675.3 1050.5,670.6 1056.5,669.6 1063.5,669.0 1069.5,670.8 1076.5,672.6 1082.5,677.6 1089.5,678.7 1096.5,678.4 1102.5,678.4 1109.5,674.2 1115.5,671.3 1122.5,670.2 1128.5,670.4 1135.5,669.8 1142.5,671.8 1148.5,671.0 1155.5,669.8 1161.5,668.7 1168.5,667.2 1174.5,665.8 1181.5,666.6 1188.5,664.4 1194.5,657.9 1201.5,656.7 1207.5,654.7 1214.5,652.2 1220.5,652.2 1227.5,657.5 1234.5,657.1 1240.5,658.2 1247.5,662.1 1253.5,665.3 1260.5,665.8 1266.5,668.5 1273.5,671.3 1280.5,671.3 1286.5,670.0 1293.5,672.5 1299.5,674.9 1306.5,676.9 1312.5,678.6 1319.5,681.6 1326.5,680.4 1332.5,675.9 1339.5,674.4 1345.5,673.6 1352.5,673.8 1358.5,674.5 1365.5,678.4 1372.5,680.2 1378.5,681.1 1385.5,681.1 1391.5,681.7 1398.5,679.6 1404.5,677.1 1411.5,675.5 1418.5,673.9 1424.5,672.4 1431.5,672.8 1437.5,672.3 1444.5,671.9" fill="none" stroke="#e8e8e8" stroke-width="1.1"/>
<polyline points="5.5,814.0 11.5,817.6 18.5,819.5 25.5,820.4 31.5,823.0 38.5,826.9 44.5,833.0 51.5,838.9 57.5,843.0 64.5,847.2 71.5,849.2 77.5,849.7 84.5,849.8 90.5,850.3 97.5,850.1 103.5,851.6 110.5,853.6 117.5,846.2 123.5,833.9 130.5,821.3 136.5,811.8 143.5,805.4 149.5,799.4 156.5,796.0 162.5,791.0 169.5,785.8 176.5,785.7 182.5,783.5 189.5,780.6 195.5,783.1 202.5,786.8 208.5,789.0 215.5,789.0 222.5,791.3 228.5,794.9 235.5,802.3 241.5,809.2 248.5,808.9 254.5,803.5 261.5,796.3 268.5,789.4 274.5,783.7 281.5,782.1 287.5,779.1 294.5,777.3 300.5,776.1 307.5,776.8 314.5,775.3 320.5,773.1 327.5,772.9 333.5,773.1 340.5,774.1 346.5,773.2 353.5,773.6 360.5,773.5 366.5,772.0 373.5,771.1 379.5,779.3 386.5,787.1 392.5,791.9 399.5,796.9 406.5,805.5 412.5,812.4 419.5,812.2 425.5,809.2 432.5,804.3 438.5,799.2 445.5,794.3 452.5,794.9 458.5,801.5 465.5,809.2 471.5,818.9 478.5,820.0 484.5,814.2 491.5,806.7 498.5,798.3 504.5,790.5 511.5,785.5 517.5,782.6 524.5,780.7 530.5,781.8 537.5,786.8 544.5,796.4 550.5,799.8 557.5,799.0 563.5,797.7 570.5,794.2 576.5,795.1 583.5,799.6 590.5,804.9 596.5,814.8 603.5,825.5 609.5,834.7 616.5,841.5 622.5,847.1 629.5,850.9 636.5,854.1 642.5,857.2 649.5,856.9 655.5,855.6 662.5,854.8 668.5,851.4 675.5,842.5 682.5,837.4 688.5,835.6 695.5,831.8 701.5,829.0 708.5,831.5 714.5,835.8 721.5,835.8 728.5,832.4 734.5,827.3 741.5,821.4 747.5,816.3 754.5,813.1 760.5,814.5 767.5,818.2 774.5,825.5 780.5,830.5 787.5,825.9 793.5,818.5 800.5,810.3 806.5,806.2 813.5,803.8 820.5,802.7 826.5,800.7 833.5,796.0 839.5,790.4 846.5,784.7 852.5,781.7 859.5,781.0 866.5,779.7 872.5,779.7 879.5,777.6 885.5,774.8 892.5,775.9 898.5,780.1 905.5,784.3 912.5,794.4 918.5,806.4 925.5,818.6 931.5,829.1 938.5,836.5 944.5,839.4 951.5,840.4 958.5,840.4 964.5,843.0 971.5,840.6 977.5,841.3 984.5,841.4 990.5,837.1 997.5,829.2 1004.5,818.2 1010.5,808.4 1017.5,799.7 1023.5,796.0 1030.5,798.5 1036.5,806.2 1043.5,816.9 1050.5,825.5 1056.5,832.5 1063.5,836.7 1069.5,840.4 1076.5,840.8 1082.5,840.5 1089.5,836.8 1096.5,831.3 1102.5,822.7 1109.5,811.9 1115.5,801.7 1122.5,793.8 1128.5,787.3 1135.5,781.7 1142.5,780.5 1148.5,779.2 1155.5,780.0 1161.5,781.7 1168.5,785.6 1174.5,784.6 1181.5,781.6 1188.5,778.0 1194.5,776.7 1201.5,775.8 1207.5,773.7 1214.5,771.9 1220.5,772.0 1227.5,770.8 1234.5,770.0 1240.5,775.2 1247.5,785.3 1253.5,794.4 1260.5,800.7 1266.5,808.7 1273.5,815.6 1280.5,825.0 1286.5,834.3 1293.5,841.3 1299.5,847.8 1306.5,852.1 1312.5,853.3 1319.5,850.3 1326.5,842.3 1332.5,831.1 1339.5,821.4 1345.5,814.5 1352.5,809.8 1358.5,810.5 1365.5,813.5 1372.5,817.1 1378.5,822.0 1385.5,826.5 1391.5,829.4 1398.5,827.0 1404.5,824.0 1411.5,824.2 1418.5,828.1 1424.5,827.1 1431.5,820.2 1437.5,812.8 1444.5,807.5" fill="none" stroke="#f0f000" stroke-width="1.1"/>
<polyline points="5.5,820.4 11.5,824.0 18.5,823.0 25.5,818.6 31.5,827.8 38.5,832.4 44.5,840.0 51.5,849.0 57.5,851.0 64.5,853.6 71.5,853.1 77.5,850.7 84.5,850.1 90.5,851.4 97.5,849.5 103.5,854.7 110.5,857.5 117.5,831.5 123.5,809.3 130.5,796.2 136.5,792.7 143.5,792.6 149.5,787.3 156.5,789.3 162.5,781.0 169.5,775.4 176.5,785.4 182.5,779.1 189.5,774.8 195.5,788.2 202.5,794.3 208.5,793.4 215.5,789.0 222.5,795.7 228.5,802.2 235.5,817.1 241.5,823.1 248.5,808.4 254.5,792.6 261.5,782.0 268.5,775.4 274.5,772.3 281.5,778.9 287.5,773.0 294.5,773.8 300.5,773.6 307.5,778.2 314.5,772.4 320.5,768.6 327.5,772.5 333.5,773.5 340.5,776.0 346.5,771.5 353.5,774.2 360.5,773.3 366.5,769.2 373.5,769.3 379.5,795.6 386.5,802.6 392.5,801.6 399.5,806.8 406.5,822.8 412.5,826.2 419.5,811.8 425.5,803.3 432.5,794.5 438.5,788.8 445.5,784.6 452.5,796.1 458.5,814.7 465.5,824.4 471.5,838.5 478.5,822.0 484.5,802.7 491.5,791.6 498.5,781.4 504.5,775.1 511.5,775.4 517.5,776.7 524.5,777.0 530.5,784.0 537.5,796.9 544.5,815.4 550.5,806.6 557.5,797.4 563.5,795.2 570.5,787.2 576.5,797.0 583.5,808.5 590.5,815.6 596.5,834.4 603.5,846.9 609.5,853.0 616.5,855.1 622.5,858.2 629.5,858.6 636.5,860.5 642.5,863.5 649.5,856.1 655.5,853.1 662.5,853.3 668.5,844.5 675.5,824.9 682.5,827.0 688.5,832.0 695.5,824.4 701.5,823.4 708.5,836.3 714.5,844.5 721.5,835.8 728.5,825.7 734.5,817.0 741.5,809.5 747.5,806.1 754.5,806.6 760.5,817.3 767.5,825.8 774.5,839.9 780.5,840.5 787.5,816.7 793.5,803.9 800.5,793.7 806.5,798.0 813.5,799.0 820.5,800.4 826.5,796.7 833.5,786.5 839.5,779.3 846.5,773.2 852.5,775.7 859.5,779.6 866.5,777.0 872.5,779.7 879.5,773.4 885.5,769.3 892.5,778.1 898.5,788.6 905.5,792.5 912.5,814.7 918.5,830.2 925.5,843.1 931.5,850.2 938.5,851.2 944.5,845.1 951.5,842.4 958.5,840.5 964.5,848.3 971.5,835.6 977.5,842.9 984.5,841.6 990.5,828.4 997.5,813.4 1004.5,796.2 1010.5,788.7 1017.5,782.3 1023.5,788.5 1030.5,803.6 1036.5,821.6 1043.5,838.4 1050.5,842.6 1056.5,846.7 1063.5,845.2 1069.5,847.8 1076.5,841.6 1082.5,839.7 1089.5,829.4 1096.5,820.4 1102.5,805.3 1109.5,790.5 1115.5,781.3 1122.5,778.0 1128.5,774.2 1135.5,770.5 1142.5,778.2 1148.5,776.5 1155.5,781.6 1161.5,785.0 1168.5,793.4 1174.5,782.6 1181.5,775.7 1188.5,770.8 1194.5,774.1 1201.5,773.8 1207.5,769.5 1214.5,768.3 1220.5,772.2 1227.5,768.5 1234.5,768.3 1240.5,785.6 1247.5,805.5 1253.5,812.7 1260.5,813.2 1266.5,824.8 1273.5,829.4 1280.5,843.6 1286.5,853.1 1293.5,855.2 1299.5,860.8 1306.5,860.8 1312.5,855.6 1319.5,844.3 1326.5,826.4 1332.5,808.6 1339.5,801.9 1345.5,800.7 1352.5,800.5 1358.5,811.8 1365.5,819.6 1372.5,824.3 1378.5,831.7 1385.5,835.6 1391.5,835.1 1398.5,822.2 1404.5,818.1 1411.5,824.7 1418.5,835.8 1424.5,825.0 1431.5,806.4 1437.5,798.1 1444.5,796.9" fill="none" stroke="#e8e8e8" stroke-width="1.1"/>
<polyline points="5.5,833.2 11.5,836.8 18.5,830.0 25.5,815.0 31.5,837.4 38.5,843.4 44.5,854.0 51.5,869.2 57.5,867.0 64.5,866.4 71.5,861.0 77.5,852.8 84.5,850.6 90.5,853.6 97.5,848.5 103.5,860.9 110.5,865.3 117.5,802.0 123.5,760.1 130.5,745.9 136.5,754.5 143.5,766.9 149.5,763.3 156.5,775.9 162.5,760.9 169.5,754.6 176.5,784.8 182.5,770.4 189.5,763.3 195.5,798.4 202.5,809.1 208.5,802.2 215.5,789.0 222.5,804.6 228.5,816.7 235.5,846.7 241.5,850.8 248.5,807.2 254.5,770.7 261.5,753.5 268.5,747.6 274.5,749.6 281.5,772.6 287.5,760.8 294.5,766.8 300.5,768.8 307.5,780.9 314.5,766.7 320.5,759.7 327.5,771.8 333.5,774.2 340.5,779.9 346.5,768.1 353.5,775.6 360.5,772.9 366.5,763.5 373.5,765.6 379.5,828.3 386.5,833.7 392.5,820.9 399.5,826.8 406.5,857.3 412.5,853.7 419.5,810.9 425.5,791.5 432.5,774.9 438.5,768.2 445.5,765.3 452.5,798.5 458.5,841.1 465.5,855.0 471.5,877.7 478.5,826.0 484.5,779.7 491.5,761.5 498.5,747.7 504.5,744.3 511.5,755.2 517.5,764.9 524.5,769.6 530.5,788.3 537.5,817.0 544.5,853.5 550.5,820.2 557.5,794.3 563.5,790.1 570.5,773.3 576.5,800.7 583.5,826.3 590.5,837.0 596.5,873.7 603.5,889.9 609.5,889.6 616.5,882.4 622.5,880.5 629.5,873.9 636.5,873.4 642.5,876.1 649.5,854.5 655.5,848.1 662.5,850.1 668.5,830.6 675.5,789.5 682.5,806.3 688.5,824.9 695.5,809.5 701.5,812.2 708.5,845.9 714.5,861.8 721.5,835.7 728.5,812.2 734.5,796.4 741.5,785.9 747.5,785.7 754.5,793.8 760.5,822.9 767.5,840.9 774.5,868.9 780.5,860.6 787.5,798.3 793.5,774.5 800.5,760.7 806.5,781.7 813.5,789.3 820.5,796.0 826.5,788.8 833.5,767.6 839.5,757.1 846.5,750.3 852.5,763.8 859.5,776.9 866.5,771.7 872.5,779.6 879.5,765.1 885.5,758.2 892.5,782.5 898.5,805.5 905.5,808.9 912.5,855.3 918.5,878.0 925.5,892.0 931.5,892.0 938.5,880.5 944.5,856.6 951.5,846.4 958.5,840.8 964.5,858.8 971.5,825.6 977.5,846.0 984.5,841.9 990.5,811.0 997.5,782.0 1004.5,752.1 1010.5,749.3 1017.5,747.6 1023.5,773.6 1030.5,813.8 1036.5,852.3 1043.5,881.3 1050.5,876.8 1056.5,874.9 1063.5,862.0 1069.5,862.5 1076.5,843.3 1082.5,838.2 1089.5,814.7 1096.5,798.7 1102.5,770.5 1109.5,747.7 1115.5,740.5 1122.5,746.3 1128.5,748.1 1135.5,748.2 1142.5,773.6 1148.5,771.0 1155.5,784.8 1161.5,791.6 1168.5,809.0 1174.5,778.6 1181.5,763.9 1188.5,756.4 1194.5,769.0 1201.5,769.9 1207.5,761.2 1214.5,761.2 1220.5,772.6 1227.5,763.8 1234.5,765.0 1240.5,806.4 1247.5,845.8 1253.5,849.3 1260.5,838.3 1266.5,856.9 1273.5,857.0 1280.5,880.9 1286.5,890.6 1293.5,883.0 1299.5,886.8 1306.5,878.1 1312.5,860.2 1319.5,832.4 1326.5,794.5 1332.5,763.7 1339.5,763.1 1345.5,773.2 1352.5,781.8 1358.5,814.3 1365.5,831.9 1372.5,838.7 1378.5,851.0 1385.5,853.7 1391.5,846.5 1398.5,812.7 1404.5,806.2 1411.5,825.6 1418.5,851.1 1424.5,821.0 1431.5,778.9 1437.5,768.5 1444.5,775.7" fill="none" stroke="#ff00ff" stroke-width="1.1"/>
<polygon points="91,490.4 99,499.2 94,499.2 94,507.2 88,507.2 88,499.2 83,499.2" fill="#ff0000"/>
<polygon points="111,504.4 119,513.1999999999999 114,513.1999999999999 114,521.1999999999999 108,521.1999999999999 108,513.1999999999999 103,513.1999999999999" fill="#ff0000"/>
<polygon points="282.3,410.09999999999997 290.3,418.9 285.3,418.9 285.3,426.9 279.3,426.9 279.3,418.9 274.3,418.9" fill="#ff0000"/>
<polygon points="597.5,166.8 605.5,175.60000000000002 600.5,175.60000000000002 600.5,183.60000000000002 594.5,183.60000000000002 594.5,175.60000000000002 589.5,175.60000000000002" fill="#ff0000"/>
<polygon points="650,294.7 658,303.5 653,303.5 653,311.5 647,311.5 647,303.5 642,303.5" fill="#ff0000"/>
<polygon points="721.8,297.59999999999997 729.8,306.4 724.8,306.4 724.8,314.4 718.8,314.4 718.8,306.4 713.8,306.4" fill="#ff0000"/>
<polygon points="788.7,286.0 796.7,294.8 791.7,294.8 791.7,302.8 785.7,302.8 785.7,294.8 780.7,294.8" fill="#ff0000"/>
<polygon points="939.3,257.4 947.3,266.2 942.3,266.2 942.3,274.2 936.3,274.2 936.3,266.2 931.3,266.2" fill="#ff0000"/>
<polygon points="991.8,256.09999999999997 999.8,264.9 994.8,264.9 994.8,272.9 988.8,272.9 988.8,264.9 983.8,264.9" fill="#ff0000"/>
<polygon points="1069.8,332.4 1077.8,341.2 1072.8,341.2 1072.8,349.2 1066.8,349.2 1066.8,341.2 1061.8,341.2" fill="#ff0000"/>
<polygon points="1268,263.4 1276,272.2 1271,272.2 1271,280.2 1265,280.2 1265,272.2 1260,272.2" fill="#ff0000"/>
<polygon points="1320.3,251.6 1328.3,260.4 1323.3,260.4 1323.3,268.4 1317.3,268.4 1317.3,260.4 1312.3,260.4" fill="#ff0000"/>
<polygon points="141.8,432.8 147.0,432.8 147.0,441.1 151.4,441.1 144.4,448.1 137.4,441.1 141.8,441.1" fill="none" stroke="#00e000" stroke-width="1.3"/>
<polygon points="154.20000000000002,429.8 159.4,429.8 159.4,438.1 163.8,438.1 156.8,445.1 149.8,438.1 154.20000000000002,438.1" fill="none" stroke="#00e000" stroke-width="1.3"/>
<polygon points="175.0,414.8 180.2,414.8 180.2,423.1 184.6,423.1 177.6,430.1 170.6,423.1 175.0,423.1" fill="none" stroke="#00e000" stroke-width="1.3"/>
<polygon points="194.70000000000002,399.8 199.9,399.8 199.9,408.1 204.3,408.1 197.3,415.1 190.3,408.1 194.70000000000002,408.1" fill="none" stroke="#00e000" stroke-width="1.3"/>
<polygon points="227.4,403.8 232.6,403.8 232.6,412.1 237,412.1 230,419.1 223,412.1 227.4,412.1" fill="none" stroke="#00e000" stroke-width="1.3"/>
<polygon points="377.4,143.3 382.6,143.3 382.6,151.60000000000002 387,151.60000000000002 380,158.60000000000002 373,151.60000000000002 377.4,151.60000000000002" fill="none" stroke="#00e000" stroke-width="1.3"/>
<polygon points="429.7,127.8 434.90000000000003,127.8 434.90000000000003,136.1 439.3,136.1 432.3,143.1 425.3,136.1 429.7,136.1" fill="none" stroke="#00e000" stroke-width="1.3"/>
<polygon points="443.59999999999997,124.8 448.8,124.8 448.8,133.1 453.2,133.1 446.2,140.1 439.2,133.1 443.59999999999997,133.1" fill="none" stroke="#00e000" stroke-width="1.3"/>
<polygon points="851.4,182.0 856.6,182.0 856.6,190.3 861,190.3 854,197.3 847,190.3 851.4,190.3" fill="none" stroke="#00e000" stroke-width="1.3"/>
<polygon points="890.4,167.3 895.6,167.3 895.6,175.60000000000002 900,175.60000000000002 893,182.60000000000002 886,175.60000000000002 890.4,175.60000000000002" fill="none" stroke="#00e000" stroke-width="1.3"/>
<polygon points="1022.4,215.3 1027.6,215.3 1027.6,223.60000000000002 1032,223.60000000000002 1025,230.60000000000002 1018,223.60000000000002 1022.4,223.60000000000002" fill="none" stroke="#00e000" stroke-width="1.3"/>
<polygon points="1140.4,255.5 1145.6,255.5 1145.6,263.8 1150,263.8 1143,270.8 1136,263.8 1140.4,263.8" fill="none" stroke="#00e000" stroke-width="1.3"/>
<polygon points="1152.8000000000002,235.8 1158.0,235.8 1158.0,244.10000000000002 1162.4,244.10000000000002 1155.4,251.10000000000002 1148.4,244.10000000000002 1152.8000000000002,244.10000000000002" fill="none" stroke="#00e000" stroke-width="1.3"/>
<polygon points="1226.1000000000001,165.8 1231.3,165.8 1231.3,174.10000000000002 1235.7,174.10000000000002 1228.7,181.10000000000002 1221.7,174.10000000000002 1226.1000000000001,174.10000000000002" fill="none" stroke="#00e000" stroke-width="1.3"/>
<polygon points="1337.4,180.3 1342.6,180.3 1342.6,188.60000000000002 1347,188.60000000000002 1340,195.60000000000002 1333,188.60000000000002 1337.4,188.60000000000002" fill="none" stroke="#00e000" stroke-width="1.3"/>
<polygon points="1185.5,149.5 1191.5,149.5 1191.5,157.0 1196.2,157.0 1188.5,166.0 1180.8,157.0 1185.5,157.0" fill="#00ff00"/>
<clipPath id="cl79"><rect x="500" y="42.5" width="50" height="20"/></clipPath><g clip-path="url(#cl79)">
<polygon points="522.9,38.3 528.1,38.3 528.1,46.599999999999994 532.5,46.599999999999994 525.5,53.599999999999994 518.5,46.599999999999994 522.9,46.599999999999994" fill="none" stroke="#00e000" stroke-width="1.3"/>
</g>
<line x1="2" y1="54" x2="1466" y2="204.5" stroke="#d8d800" stroke-width="1.5"/>
<line x1="569" y1="522.4" x2="1466" y2="204.5" stroke="#d8d800" stroke-width="1.4"/>
</svg>
<div class="bar">
<div class="tab" style="left:3px;width:24px;background:#fafafa;height:4px;"></div>
<div class="tab" style="left:580px;width:57px;"></div>
<div class="tab" style="left:647px;width:57px;"></div>
<div class="sep" style="left:28px;"></div><div class="sep" style="left:93px;"></div><div class="sep" style="left:157px;"></div><div class="sep" style="left:222px;"></div><div class="sep" style="left:286px;"></div><div class="sep" style="left:372px;"></div><div class="sep" style="left:437px;"></div><div class="sep" style="left:500px;"></div>
<div class="m" style="left:42px;">系统</div>
<div class="m" style="left:111px;">功能</div>
<div class="m" style="left:173px;">报价</div>
<div class="m" style="left:237px;">分析</div>
<div class="m" style="left:294px;">扩展行情</div>
<div class="m" style="left:386px;">资讯</div>
<div class="m" style="left:450px;">工具</div>
<div class="m" style="left:515px;">帮助</div>
<div class="m" style="left:591px;color:#ff0000">期权</div>
<div class="m" style="left:659px;color:#ff0000">模拟</div>
<div class="m" style="left:990px;">证券交易中显示 - 上证指数</div>
</div>
<div class="t cj" style="left:2px;top:17px;">上证指数(日线.前复权)</div>
<div class="t" style="left:210px;top:17px;">EXPMA(12,50)</div>
<div class="t" style="left:334px;top:17px;">EXP1: 2963.79</div>
<div class="t" style="left:464px;top:17px;color:#f0f000">EXP2: 2950.73</div>
<div class="t" style="left:2px;top:544px;">VOLUME: 165263552.00</div>
<div class="t" style="left:212px;top:544px;">MA5: 166776480.00</div>
<div class="t" style="left:384px;top:544px;color:#f0f000">MA10: 159592304.00</div>
<div class="t" style="left:2px;top:719px;">KDJ(9,3,3)</div>
<div class="t" style="left:97px;top:719px;">K: 66.91</div>
<div class="t" style="left:173px;top:719px;color:#f0f000">D: 58.14</div>
<div class="t" style="left:248px;top:719px;color:#ff00ff">J: 84.43</div>
<div class="t" style="left:136px;top:507px;letter-spacing:2.05px">2440.91</div>
<div class="t" style="left:532px;top:43px;letter-spacing:2.2px">3288.45</div>
<div class="t" style="left:1429px;top:231px;">2959</div>
<div class="t cj" style="left:1469px;top:335px;color:#ffffff">2723</div>
<div class="t" style="left:1488px;top:557px;color:#b00000">6</div>
<div class="t" style="left:1488px;top:607px;color:#b00000">4</div>
<div class="t" style="left:1488px;top:657px;color:#b00000">2</div>
<div class="t" style="left:1471px;top:696px;color:#b00000">X17</div>
<div class="t" style="left:1484px;top:752px;color:#b00000">100</div>
<div class="t" style="left:1494px;top:775px;color:#b00000">80</div>
<div class="t" style="left:1494px;top:808px;color:#b00000">50</div>
<div class="t" style="left:1494px;top:842px;color:#b00000">20</div>
</body></html>
